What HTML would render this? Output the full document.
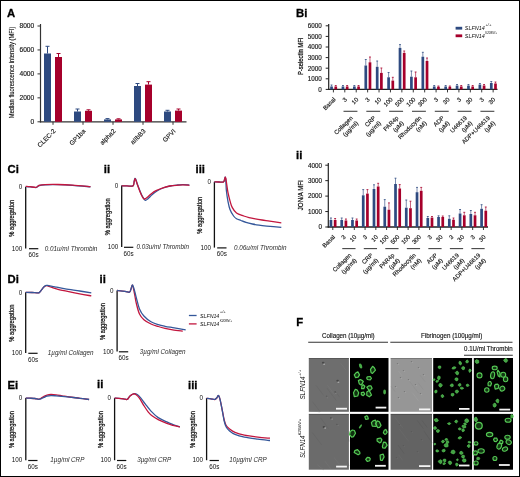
<!DOCTYPE html>
<html><head><meta charset="utf-8"><style>
html,body{margin:0;padding:0;background:#fff;}
svg{display:block;will-change:transform;filter:blur(0.3px);font-family:"Liberation Sans", sans-serif;}
.yl{stroke:#111;stroke-width:0.25px;}
text{stroke:#222;stroke-width:0.15px;}
text[font-style=italic],.ns{stroke:none;}
.pl{stroke:#000;stroke-width:0.3px;}
</style></head><body>
<div style="position:relative;width:520px;height:477px;overflow:hidden;">
<svg width="520" height="477" viewBox="0 0 520 477">
<defs><filter id="bl" x="-50%" y="-50%" width="200%" height="200%"><feGaussianBlur stdDeviation="0.35"/></filter></defs>
<rect width="520" height="477" fill="#fff"/>
<text x="7" y="16.8" font-size="11.3" text-anchor="start" fill="#000" font-weight="bold" class="pl">A</text>
<line x1="40.5" y1="24" x2="40.5" y2="122.39999999999999" stroke="#333" stroke-width="1.2" />
<line x1="37.5" y1="121.8" x2="40.5" y2="121.8" stroke="#333" stroke-width="1" />
<text x="34.2" y="124.1" font-size="6.6" text-anchor="end" fill="#111" >0</text>
<line x1="37.5" y1="97.85" x2="40.5" y2="97.85" stroke="#333" stroke-width="1" />
<text x="34.2" y="100.14999999999999" font-size="6.6" text-anchor="end" fill="#111" >2000</text>
<line x1="37.5" y1="73.9" x2="40.5" y2="73.9" stroke="#333" stroke-width="1" />
<text x="34.2" y="76.2" font-size="6.6" text-anchor="end" fill="#111" >4000</text>
<line x1="37.5" y1="49.95" x2="40.5" y2="49.95" stroke="#333" stroke-width="1" />
<text x="34.2" y="52.25" font-size="6.6" text-anchor="end" fill="#111" >6000</text>
<line x1="37.5" y1="26.0" x2="40.5" y2="26.0" stroke="#333" stroke-width="1" />
<text x="34.2" y="28.3" font-size="6.6" text-anchor="end" fill="#111" >8000</text>
<line x1="39.9" y1="121.8" x2="186.5" y2="121.8" stroke="#333" stroke-width="1.3" />
<line x1="53" y1="121.8" x2="53" y2="124.8" stroke="#333" stroke-width="1" />
<line x1="47.5" y1="53.5" x2="47.5" y2="46.3" stroke="#2e4a80" stroke-width="1" />
<line x1="45.5" y1="46.3" x2="49.5" y2="46.3" stroke="#2e4a80" stroke-width="1" />
<line x1="58.5" y1="57" x2="58.5" y2="53.5" stroke="#a6002b" stroke-width="1" />
<line x1="56.5" y1="53.5" x2="60.5" y2="53.5" stroke="#a6002b" stroke-width="1" />
<rect x="44" y="53.5" width="7" height="68.3" fill="#2e4a80" />
<rect x="55" y="57" width="7" height="64.8" fill="#a6002b" />
<text transform="translate(56,131.6) rotate(-45)" font-size="6.4" text-anchor="end" fill="#111" >CLEC-2</text>
<line x1="83" y1="121.8" x2="83" y2="124.8" stroke="#333" stroke-width="1" />
<line x1="77.5" y1="111.5" x2="77.5" y2="109" stroke="#2e4a80" stroke-width="1" />
<line x1="75.5" y1="109" x2="79.5" y2="109" stroke="#2e4a80" stroke-width="1" />
<line x1="88.5" y1="110.8" x2="88.5" y2="109.8" stroke="#a6002b" stroke-width="1" />
<line x1="86.5" y1="109.8" x2="90.5" y2="109.8" stroke="#a6002b" stroke-width="1" />
<rect x="74" y="111.5" width="7" height="10.299999999999997" fill="#2e4a80" />
<rect x="85" y="110.8" width="7" height="11.0" fill="#a6002b" />
<text transform="translate(86,131.6) rotate(-45)" font-size="6.4" text-anchor="end" fill="#111" >GP1ba</text>
<line x1="113" y1="121.8" x2="113" y2="124.8" stroke="#333" stroke-width="1" />
<line x1="107.5" y1="119.4" x2="107.5" y2="118.6" stroke="#2e4a80" stroke-width="1" />
<line x1="105.5" y1="118.6" x2="109.5" y2="118.6" stroke="#2e4a80" stroke-width="1" />
<line x1="118.5" y1="119.4" x2="118.5" y2="118.8" stroke="#a6002b" stroke-width="1" />
<line x1="116.5" y1="118.8" x2="120.5" y2="118.8" stroke="#a6002b" stroke-width="1" />
<rect x="104" y="119.4" width="7" height="2.3999999999999915" fill="#2e4a80" />
<rect x="115" y="119.4" width="7" height="2.3999999999999915" fill="#a6002b" />
<text transform="translate(116,131.6) rotate(-45)" font-size="6.4" text-anchor="end" fill="#111" >alpha2</text>
<line x1="143" y1="121.8" x2="143" y2="124.8" stroke="#333" stroke-width="1" />
<line x1="137.5" y1="86" x2="137.5" y2="83.5" stroke="#2e4a80" stroke-width="1" />
<line x1="135.5" y1="83.5" x2="139.5" y2="83.5" stroke="#2e4a80" stroke-width="1" />
<line x1="148.5" y1="84.6" x2="148.5" y2="81.7" stroke="#a6002b" stroke-width="1" />
<line x1="146.5" y1="81.7" x2="150.5" y2="81.7" stroke="#a6002b" stroke-width="1" />
<rect x="134" y="86" width="7" height="35.8" fill="#2e4a80" />
<rect x="145" y="84.6" width="7" height="37.2" fill="#a6002b" />
<text transform="translate(146,131.6) rotate(-45)" font-size="6.4" text-anchor="end" fill="#111" >aIIbB3</text>
<line x1="173" y1="121.8" x2="173" y2="124.8" stroke="#333" stroke-width="1" />
<line x1="167.5" y1="111.5" x2="167.5" y2="110.3" stroke="#2e4a80" stroke-width="1" />
<line x1="165.5" y1="110.3" x2="169.5" y2="110.3" stroke="#2e4a80" stroke-width="1" />
<line x1="178.5" y1="110.6" x2="178.5" y2="109" stroke="#a6002b" stroke-width="1" />
<line x1="176.5" y1="109" x2="180.5" y2="109" stroke="#a6002b" stroke-width="1" />
<rect x="164" y="111.5" width="7" height="10.299999999999997" fill="#2e4a80" />
<rect x="175" y="110.6" width="7" height="11.200000000000003" fill="#a6002b" />
<text transform="translate(176,131.6) rotate(-45)" font-size="6.4" text-anchor="end" fill="#111" >GPVI</text>
<text transform="translate(13.9,72.4) rotate(-90)" font-size="7.4" text-anchor="middle" fill="#111" textLength="91.5" lengthAdjust="spacingAndGlyphs" >Median fluorescence intensity (MFI)</text>
<text x="296" y="16.5" font-size="11.3" text-anchor="start" fill="#000" font-weight="bold" class="pl">Bi</text>
<line x1="328.7" y1="24" x2="328.7" y2="90.0" stroke="#222" stroke-width="1.2" />
<line x1="325.7" y1="89.4" x2="328.7" y2="89.4" stroke="#222" stroke-width="1" />
<text x="321.7" y="91.7" font-size="6.3" text-anchor="end" fill="#111" >0</text>
<line x1="325.7" y1="78.80000000000001" x2="328.7" y2="78.80000000000001" stroke="#222" stroke-width="1" />
<text x="321.7" y="81.10000000000001" font-size="6.3" text-anchor="end" fill="#111" >1000</text>
<line x1="325.7" y1="68.2" x2="328.7" y2="68.2" stroke="#222" stroke-width="1" />
<text x="321.7" y="70.5" font-size="6.3" text-anchor="end" fill="#111" >2000</text>
<line x1="325.7" y1="57.60000000000001" x2="328.7" y2="57.60000000000001" stroke="#222" stroke-width="1" />
<text x="321.7" y="59.900000000000006" font-size="6.3" text-anchor="end" fill="#111" >3000</text>
<line x1="325.7" y1="47.00000000000001" x2="328.7" y2="47.00000000000001" stroke="#222" stroke-width="1" />
<text x="321.7" y="49.300000000000004" font-size="6.3" text-anchor="end" fill="#111" >4000</text>
<line x1="325.7" y1="36.400000000000006" x2="328.7" y2="36.400000000000006" stroke="#222" stroke-width="1" />
<text x="321.7" y="38.7" font-size="6.3" text-anchor="end" fill="#111" >5000</text>
<line x1="325.7" y1="25.800000000000004" x2="328.7" y2="25.800000000000004" stroke="#222" stroke-width="1" />
<text x="321.7" y="28.100000000000005" font-size="6.3" text-anchor="end" fill="#111" >6000</text>
<line x1="328.09999999999997" y1="89.4" x2="497.5" y2="89.4" stroke="#222" stroke-width="1.3" />
<line x1="333.4" y1="89.4" x2="333.4" y2="92.4" stroke="#222" stroke-width="0.9" />
<line x1="331.54999999999995" y1="86.5" x2="331.54999999999995" y2="85" stroke="#2e4a80" stroke-width="0.7" stroke-opacity="0.9"/>
<line x1="330.59999999999997" y1="85" x2="332.5" y2="85" stroke="#2e4a80" stroke-width="0.9" stroke-opacity="0.9"/>
<line x1="335.75" y1="86.5" x2="335.75" y2="85.5" stroke="#a6002b" stroke-width="0.7" stroke-opacity="0.9"/>
<line x1="334.79999999999995" y1="85.5" x2="336.7" y2="85.5" stroke="#a6002b" stroke-width="0.9" stroke-opacity="0.9"/>
<rect x="330.2" y="86.5" width="2.7" height="2.9000000000000057" fill="#2e4a80" />
<rect x="334.4" y="86.5" width="2.7" height="2.9000000000000057" fill="#a6002b" />
<text transform="translate(336.0,99.9) rotate(-45)" font-size="6.0" text-anchor="end" fill="#111" >Basal</text>
<line x1="344.81" y1="89.4" x2="344.81" y2="92.4" stroke="#222" stroke-width="0.9" />
<line x1="342.96" y1="86.5" x2="342.96" y2="85.5" stroke="#2e4a80" stroke-width="0.7" stroke-opacity="0.9"/>
<line x1="342.01" y1="85.5" x2="343.91" y2="85.5" stroke="#2e4a80" stroke-width="0.9" stroke-opacity="0.9"/>
<line x1="347.16" y1="86.5" x2="347.16" y2="85.5" stroke="#a6002b" stroke-width="0.7" stroke-opacity="0.9"/>
<line x1="346.21" y1="85.5" x2="348.11" y2="85.5" stroke="#a6002b" stroke-width="0.9" stroke-opacity="0.9"/>
<rect x="341.61" y="86.5" width="2.7" height="2.9000000000000057" fill="#2e4a80" />
<rect x="345.81" y="86.5" width="2.7" height="2.9000000000000057" fill="#a6002b" />
<text transform="translate(347.41,99.9) rotate(-45)" font-size="6.0" text-anchor="end" fill="#111" >3</text>
<line x1="356.21999999999997" y1="89.4" x2="356.21999999999997" y2="92.4" stroke="#222" stroke-width="0.9" />
<line x1="354.36999999999995" y1="86.5" x2="354.36999999999995" y2="85.5" stroke="#2e4a80" stroke-width="0.7" stroke-opacity="0.9"/>
<line x1="353.41999999999996" y1="85.5" x2="355.32" y2="85.5" stroke="#2e4a80" stroke-width="0.9" stroke-opacity="0.9"/>
<line x1="358.57" y1="86.5" x2="358.57" y2="85.5" stroke="#a6002b" stroke-width="0.7" stroke-opacity="0.9"/>
<line x1="357.61999999999995" y1="85.5" x2="359.52" y2="85.5" stroke="#a6002b" stroke-width="0.9" stroke-opacity="0.9"/>
<rect x="353.02" y="86.5" width="2.7" height="2.9000000000000057" fill="#2e4a80" />
<rect x="357.21999999999997" y="86.5" width="2.7" height="2.9000000000000057" fill="#a6002b" />
<text transform="translate(358.82,99.9) rotate(-45)" font-size="6.0" text-anchor="end" fill="#111" >10</text>
<line x1="367.63" y1="89.4" x2="367.63" y2="92.4" stroke="#222" stroke-width="0.9" />
<line x1="365.78" y1="65.5" x2="365.78" y2="59.5" stroke="#2e4a80" stroke-width="0.7" stroke-opacity="0.9"/>
<line x1="364.83" y1="59.5" x2="366.73" y2="59.5" stroke="#2e4a80" stroke-width="0.9" stroke-opacity="0.9"/>
<line x1="369.98" y1="62.3" x2="369.98" y2="57" stroke="#a6002b" stroke-width="0.7" stroke-opacity="0.9"/>
<line x1="369.03" y1="57" x2="370.93" y2="57" stroke="#a6002b" stroke-width="0.9" stroke-opacity="0.9"/>
<rect x="364.43" y="65.5" width="2.7" height="23.900000000000006" fill="#2e4a80" />
<rect x="368.63" y="62.3" width="2.7" height="27.10000000000001" fill="#a6002b" />
<text transform="translate(370.23,99.9) rotate(-45)" font-size="6.0" text-anchor="end" fill="#111" >3</text>
<line x1="379.03999999999996" y1="89.4" x2="379.03999999999996" y2="92.4" stroke="#222" stroke-width="0.9" />
<line x1="377.18999999999994" y1="66.8" x2="377.18999999999994" y2="61" stroke="#2e4a80" stroke-width="0.7" stroke-opacity="0.9"/>
<line x1="376.23999999999995" y1="61" x2="378.14" y2="61" stroke="#2e4a80" stroke-width="0.9" stroke-opacity="0.9"/>
<line x1="381.39" y1="72.9" x2="381.39" y2="68" stroke="#a6002b" stroke-width="0.7" stroke-opacity="0.9"/>
<line x1="380.43999999999994" y1="68" x2="382.34" y2="68" stroke="#a6002b" stroke-width="0.9" stroke-opacity="0.9"/>
<rect x="375.84" y="66.8" width="2.7" height="22.60000000000001" fill="#2e4a80" />
<rect x="380.03999999999996" y="72.9" width="2.7" height="16.5" fill="#a6002b" />
<text transform="translate(381.64,99.9) rotate(-45)" font-size="6.0" text-anchor="end" fill="#111" >10</text>
<line x1="390.45" y1="89.4" x2="390.45" y2="92.4" stroke="#222" stroke-width="0.9" />
<line x1="388.59999999999997" y1="77.3" x2="388.59999999999997" y2="72.5" stroke="#2e4a80" stroke-width="0.7" stroke-opacity="0.9"/>
<line x1="387.65" y1="72.5" x2="389.55" y2="72.5" stroke="#2e4a80" stroke-width="0.9" stroke-opacity="0.9"/>
<line x1="392.8" y1="80.6" x2="392.8" y2="77.3" stroke="#a6002b" stroke-width="0.7" stroke-opacity="0.9"/>
<line x1="391.84999999999997" y1="77.3" x2="393.75" y2="77.3" stroke="#a6002b" stroke-width="0.9" stroke-opacity="0.9"/>
<rect x="387.25" y="77.3" width="2.7" height="12.100000000000009" fill="#2e4a80" />
<rect x="391.45" y="80.6" width="2.7" height="8.800000000000011" fill="#a6002b" />
<text transform="translate(393.05,99.9) rotate(-45)" font-size="6.0" text-anchor="end" fill="#111" >100</text>
<line x1="401.86" y1="89.4" x2="401.86" y2="92.4" stroke="#222" stroke-width="0.9" />
<line x1="400.01" y1="47.9" x2="400.01" y2="44.6" stroke="#2e4a80" stroke-width="0.7" stroke-opacity="0.9"/>
<line x1="399.06" y1="44.6" x2="400.96000000000004" y2="44.6" stroke="#2e4a80" stroke-width="0.9" stroke-opacity="0.9"/>
<line x1="404.21000000000004" y1="52.9" x2="404.21000000000004" y2="51" stroke="#a6002b" stroke-width="0.7" stroke-opacity="0.9"/>
<line x1="403.26" y1="51" x2="405.16" y2="51" stroke="#a6002b" stroke-width="0.9" stroke-opacity="0.9"/>
<rect x="398.66" y="47.9" width="2.7" height="41.50000000000001" fill="#2e4a80" />
<rect x="402.86" y="52.9" width="2.7" height="36.50000000000001" fill="#a6002b" />
<text transform="translate(404.46000000000004,99.9) rotate(-45)" font-size="6.0" text-anchor="end" fill="#111" >500</text>
<line x1="413.27" y1="89.4" x2="413.27" y2="92.4" stroke="#222" stroke-width="0.9" />
<line x1="411.41999999999996" y1="76.7" x2="411.41999999999996" y2="71" stroke="#2e4a80" stroke-width="0.7" stroke-opacity="0.9"/>
<line x1="410.46999999999997" y1="71" x2="412.37" y2="71" stroke="#2e4a80" stroke-width="0.9" stroke-opacity="0.9"/>
<line x1="415.62" y1="77.3" x2="415.62" y2="72" stroke="#a6002b" stroke-width="0.7" stroke-opacity="0.9"/>
<line x1="414.66999999999996" y1="72" x2="416.57" y2="72" stroke="#a6002b" stroke-width="0.9" stroke-opacity="0.9"/>
<rect x="410.07" y="76.7" width="2.7" height="12.700000000000003" fill="#2e4a80" />
<rect x="414.27" y="77.3" width="2.7" height="12.100000000000009" fill="#a6002b" />
<text transform="translate(415.87,99.9) rotate(-45)" font-size="6.0" text-anchor="end" fill="#111" >100</text>
<line x1="424.67999999999995" y1="89.4" x2="424.67999999999995" y2="92.4" stroke="#222" stroke-width="0.9" />
<line x1="422.8299999999999" y1="56.7" x2="422.8299999999999" y2="52.3" stroke="#2e4a80" stroke-width="0.7" stroke-opacity="0.9"/>
<line x1="421.87999999999994" y1="52.3" x2="423.78" y2="52.3" stroke="#2e4a80" stroke-width="0.9" stroke-opacity="0.9"/>
<line x1="427.03" y1="61" x2="427.03" y2="58" stroke="#a6002b" stroke-width="0.7" stroke-opacity="0.9"/>
<line x1="426.0799999999999" y1="58" x2="427.97999999999996" y2="58" stroke="#a6002b" stroke-width="0.9" stroke-opacity="0.9"/>
<rect x="421.47999999999996" y="56.7" width="2.7" height="32.7" fill="#2e4a80" />
<rect x="425.67999999999995" y="61" width="2.7" height="28.400000000000006" fill="#a6002b" />
<text transform="translate(427.28,99.9) rotate(-45)" font-size="6.0" text-anchor="end" fill="#111" >300</text>
<line x1="436.09" y1="89.4" x2="436.09" y2="92.4" stroke="#222" stroke-width="0.9" />
<line x1="434.23999999999995" y1="86.5" x2="434.23999999999995" y2="85.5" stroke="#2e4a80" stroke-width="0.7" stroke-opacity="0.9"/>
<line x1="433.28999999999996" y1="85.5" x2="435.19" y2="85.5" stroke="#2e4a80" stroke-width="0.9" stroke-opacity="0.9"/>
<line x1="438.44" y1="86.7" x2="438.44" y2="86" stroke="#a6002b" stroke-width="0.7" stroke-opacity="0.9"/>
<line x1="437.48999999999995" y1="86" x2="439.39" y2="86" stroke="#a6002b" stroke-width="0.9" stroke-opacity="0.9"/>
<rect x="432.89" y="86.5" width="2.7" height="2.9000000000000057" fill="#2e4a80" />
<rect x="437.09" y="86.7" width="2.7" height="2.700000000000003" fill="#a6002b" />
<text transform="translate(438.69,99.9) rotate(-45)" font-size="6.0" text-anchor="end" fill="#111" >3</text>
<line x1="447.5" y1="89.4" x2="447.5" y2="92.4" stroke="#222" stroke-width="0.9" />
<line x1="445.65" y1="86.5" x2="445.65" y2="85.5" stroke="#2e4a80" stroke-width="0.7" stroke-opacity="0.9"/>
<line x1="444.7" y1="85.5" x2="446.6" y2="85.5" stroke="#2e4a80" stroke-width="0.9" stroke-opacity="0.9"/>
<line x1="449.85" y1="86.7" x2="449.85" y2="86" stroke="#a6002b" stroke-width="0.7" stroke-opacity="0.9"/>
<line x1="448.9" y1="86" x2="450.8" y2="86" stroke="#a6002b" stroke-width="0.9" stroke-opacity="0.9"/>
<rect x="444.3" y="86.5" width="2.7" height="2.9000000000000057" fill="#2e4a80" />
<rect x="448.5" y="86.7" width="2.7" height="2.700000000000003" fill="#a6002b" />
<text transform="translate(450.1,99.9) rotate(-45)" font-size="6.0" text-anchor="end" fill="#111" >30</text>
<line x1="458.90999999999997" y1="89.4" x2="458.90999999999997" y2="92.4" stroke="#222" stroke-width="0.9" />
<line x1="457.05999999999995" y1="85.6" x2="457.05999999999995" y2="84.5" stroke="#2e4a80" stroke-width="0.7" stroke-opacity="0.9"/>
<line x1="456.10999999999996" y1="84.5" x2="458.01" y2="84.5" stroke="#2e4a80" stroke-width="0.9" stroke-opacity="0.9"/>
<line x1="461.26" y1="86.5" x2="461.26" y2="85.5" stroke="#a6002b" stroke-width="0.7" stroke-opacity="0.9"/>
<line x1="460.30999999999995" y1="85.5" x2="462.21" y2="85.5" stroke="#a6002b" stroke-width="0.9" stroke-opacity="0.9"/>
<rect x="455.71" y="85.6" width="2.7" height="3.8000000000000114" fill="#2e4a80" />
<rect x="459.90999999999997" y="86.5" width="2.7" height="2.9000000000000057" fill="#a6002b" />
<text transform="translate(461.51,99.9) rotate(-45)" font-size="6.0" text-anchor="end" fill="#111" >3</text>
<line x1="470.32" y1="89.4" x2="470.32" y2="92.4" stroke="#222" stroke-width="0.9" />
<line x1="468.46999999999997" y1="85.6" x2="468.46999999999997" y2="84.5" stroke="#2e4a80" stroke-width="0.7" stroke-opacity="0.9"/>
<line x1="467.52" y1="84.5" x2="469.42" y2="84.5" stroke="#2e4a80" stroke-width="0.9" stroke-opacity="0.9"/>
<line x1="472.67" y1="86.5" x2="472.67" y2="85.5" stroke="#a6002b" stroke-width="0.7" stroke-opacity="0.9"/>
<line x1="471.71999999999997" y1="85.5" x2="473.62" y2="85.5" stroke="#a6002b" stroke-width="0.9" stroke-opacity="0.9"/>
<rect x="467.12" y="85.6" width="2.7" height="3.8000000000000114" fill="#2e4a80" />
<rect x="471.32" y="86.5" width="2.7" height="2.9000000000000057" fill="#a6002b" />
<text transform="translate(472.92,99.9) rotate(-45)" font-size="6.0" text-anchor="end" fill="#111" >30</text>
<line x1="481.73" y1="89.4" x2="481.73" y2="92.4" stroke="#222" stroke-width="0.9" />
<line x1="479.88" y1="84.6" x2="479.88" y2="83.5" stroke="#2e4a80" stroke-width="0.7" stroke-opacity="0.9"/>
<line x1="478.93" y1="83.5" x2="480.83000000000004" y2="83.5" stroke="#2e4a80" stroke-width="0.9" stroke-opacity="0.9"/>
<line x1="484.08000000000004" y1="85.5" x2="484.08000000000004" y2="84.5" stroke="#a6002b" stroke-width="0.7" stroke-opacity="0.9"/>
<line x1="483.13" y1="84.5" x2="485.03000000000003" y2="84.5" stroke="#a6002b" stroke-width="0.9" stroke-opacity="0.9"/>
<rect x="478.53000000000003" y="84.6" width="2.7" height="4.800000000000011" fill="#2e4a80" />
<rect x="482.73" y="85.5" width="2.7" height="3.9000000000000057" fill="#a6002b" />
<text transform="translate(484.33000000000004,99.9) rotate(-45)" font-size="6.0" text-anchor="end" fill="#111" >3</text>
<line x1="493.14" y1="89.4" x2="493.14" y2="92.4" stroke="#222" stroke-width="0.9" />
<line x1="491.28999999999996" y1="83" x2="491.28999999999996" y2="81.5" stroke="#2e4a80" stroke-width="0.7" stroke-opacity="0.9"/>
<line x1="490.34" y1="81.5" x2="492.24" y2="81.5" stroke="#2e4a80" stroke-width="0.9" stroke-opacity="0.9"/>
<line x1="495.49" y1="83.5" x2="495.49" y2="82" stroke="#a6002b" stroke-width="0.7" stroke-opacity="0.9"/>
<line x1="494.53999999999996" y1="82" x2="496.44" y2="82" stroke="#a6002b" stroke-width="0.9" stroke-opacity="0.9"/>
<rect x="489.94" y="83" width="2.7" height="6.400000000000006" fill="#2e4a80" />
<rect x="494.14" y="83.5" width="2.7" height="5.900000000000006" fill="#a6002b" />
<text transform="translate(495.74,99.9) rotate(-45)" font-size="6.0" text-anchor="end" fill="#111" >30</text>
<line x1="343.51" y1="111.3" x2="357.41999999999996" y2="111.3" stroke="#444" stroke-width="1.1" />
<g transform="translate(353.31,118.30) rotate(-45)" font-size="6.0" text-anchor="end" fill="#111"><text x="0" y="0">Collagen</text><text x="0" y="7.5">(µg/ml)</text></g>
<line x1="366.33" y1="111.3" x2="380.23999999999995" y2="111.3" stroke="#444" stroke-width="1.1" />
<g transform="translate(376.13,118.30) rotate(-45)" font-size="6.0" text-anchor="end" fill="#111"><text x="0" y="0">CRP</text><text x="0" y="7.5">(µg/ml)</text></g>
<line x1="389.15" y1="111.3" x2="403.06" y2="111.3" stroke="#444" stroke-width="1.1" />
<g transform="translate(398.95,118.30) rotate(-45)" font-size="6.0" text-anchor="end" fill="#111"><text x="0" y="0">PAR4p</text><text x="0" y="7.5">(µM)</text></g>
<line x1="411.96999999999997" y1="111.3" x2="425.87999999999994" y2="111.3" stroke="#444" stroke-width="1.1" />
<g transform="translate(421.77,118.30) rotate(-45)" font-size="6.0" text-anchor="end" fill="#111"><text x="0" y="0">Rhodocytin</text><text x="0" y="7.5">(nM)</text></g>
<line x1="434.78999999999996" y1="111.3" x2="448.7" y2="111.3" stroke="#444" stroke-width="1.1" />
<g transform="translate(444.59,118.30) rotate(-45)" font-size="6.0" text-anchor="end" fill="#111"><text x="0" y="0">ADP</text><text x="0" y="7.5">(µM)</text></g>
<line x1="457.60999999999996" y1="111.3" x2="471.52" y2="111.3" stroke="#444" stroke-width="1.1" />
<g transform="translate(467.42,118.30) rotate(-45)" font-size="6.0" text-anchor="end" fill="#111"><text x="0" y="0">U46619</text><text x="0" y="7.5">(µM)</text></g>
<line x1="480.43" y1="111.3" x2="494.34" y2="111.3" stroke="#444" stroke-width="1.1" />
<g transform="translate(490.24,118.30) rotate(-45)" font-size="6.0" text-anchor="end" fill="#111"><text x="0" y="0">ADP+U46619</text><text x="0" y="7.5">(µM)</text></g>
<text transform="translate(302.7,56.3) rotate(-90)" font-size="7.2" text-anchor="middle" fill="#111" textLength="37.5" lengthAdjust="spacingAndGlyphs" class="yl">P-selectin MFI</text>
<text x="296" y="159" font-size="11.3" text-anchor="start" fill="#000" font-weight="bold" class="pl">ii</text>
<line x1="328.3" y1="163" x2="328.3" y2="227.6" stroke="#222" stroke-width="1.2" />
<line x1="325.3" y1="227.0" x2="328.3" y2="227.0" stroke="#222" stroke-width="1" />
<text x="322.0" y="229.3" font-size="6.3" text-anchor="end" fill="#111" >0</text>
<line x1="325.3" y1="211.55" x2="328.3" y2="211.55" stroke="#222" stroke-width="1" />
<text x="322.0" y="213.85000000000002" font-size="6.3" text-anchor="end" fill="#111" >1000</text>
<line x1="325.3" y1="196.1" x2="328.3" y2="196.1" stroke="#222" stroke-width="1" />
<text x="322.0" y="198.4" font-size="6.3" text-anchor="end" fill="#111" >2000</text>
<line x1="325.3" y1="180.65" x2="328.3" y2="180.65" stroke="#222" stroke-width="1" />
<text x="322.0" y="182.95000000000002" font-size="6.3" text-anchor="end" fill="#111" >3000</text>
<line x1="325.3" y1="165.2" x2="328.3" y2="165.2" stroke="#222" stroke-width="1" />
<text x="322.0" y="167.5" font-size="6.3" text-anchor="end" fill="#111" >4000</text>
<line x1="327.7" y1="227.0" x2="488" y2="227.0" stroke="#222" stroke-width="1.3" />
<line x1="332.8" y1="227.0" x2="332.8" y2="230.0" stroke="#222" stroke-width="0.9" />
<line x1="330.95" y1="220" x2="330.95" y2="218" stroke="#2e4a80" stroke-width="0.7" stroke-opacity="0.9"/>
<line x1="330.0" y1="218" x2="331.90000000000003" y2="218" stroke="#2e4a80" stroke-width="0.9" stroke-opacity="0.9"/>
<line x1="335.15000000000003" y1="220" x2="335.15000000000003" y2="218.5" stroke="#a6002b" stroke-width="0.7" stroke-opacity="0.9"/>
<line x1="334.2" y1="218.5" x2="336.1" y2="218.5" stroke="#a6002b" stroke-width="0.9" stroke-opacity="0.9"/>
<rect x="329.6" y="220" width="2.7" height="7.0" fill="#2e4a80" />
<rect x="333.8" y="220" width="2.7" height="7.0" fill="#a6002b" />
<text transform="translate(335.40000000000003,237.5) rotate(-45)" font-size="6.0" text-anchor="end" fill="#111" >Basal</text>
<line x1="343.56" y1="227.0" x2="343.56" y2="230.0" stroke="#222" stroke-width="0.9" />
<line x1="341.71" y1="220" x2="341.71" y2="218" stroke="#2e4a80" stroke-width="0.7" stroke-opacity="0.9"/>
<line x1="340.76" y1="218" x2="342.66" y2="218" stroke="#2e4a80" stroke-width="0.9" stroke-opacity="0.9"/>
<line x1="345.91" y1="220.5" x2="345.91" y2="219" stroke="#a6002b" stroke-width="0.7" stroke-opacity="0.9"/>
<line x1="344.96" y1="219" x2="346.86" y2="219" stroke="#a6002b" stroke-width="0.9" stroke-opacity="0.9"/>
<rect x="340.36" y="220" width="2.7" height="7.0" fill="#2e4a80" />
<rect x="344.56" y="220.5" width="2.7" height="6.5" fill="#a6002b" />
<text transform="translate(346.16,237.5) rotate(-45)" font-size="6.0" text-anchor="end" fill="#111" >3</text>
<line x1="354.32" y1="227.0" x2="354.32" y2="230.0" stroke="#222" stroke-width="0.9" />
<line x1="352.46999999999997" y1="220" x2="352.46999999999997" y2="218" stroke="#2e4a80" stroke-width="0.7" stroke-opacity="0.9"/>
<line x1="351.52" y1="218" x2="353.42" y2="218" stroke="#2e4a80" stroke-width="0.9" stroke-opacity="0.9"/>
<line x1="356.67" y1="220.5" x2="356.67" y2="219" stroke="#a6002b" stroke-width="0.7" stroke-opacity="0.9"/>
<line x1="355.71999999999997" y1="219" x2="357.62" y2="219" stroke="#a6002b" stroke-width="0.9" stroke-opacity="0.9"/>
<rect x="351.12" y="220" width="2.7" height="7.0" fill="#2e4a80" />
<rect x="355.32" y="220.5" width="2.7" height="6.5" fill="#a6002b" />
<text transform="translate(356.92,237.5) rotate(-45)" font-size="6.0" text-anchor="end" fill="#111" >10</text>
<line x1="365.08000000000004" y1="227.0" x2="365.08000000000004" y2="230.0" stroke="#222" stroke-width="0.9" />
<line x1="363.23" y1="195.3" x2="363.23" y2="189.6" stroke="#2e4a80" stroke-width="0.7" stroke-opacity="0.9"/>
<line x1="362.28000000000003" y1="189.6" x2="364.18000000000006" y2="189.6" stroke="#2e4a80" stroke-width="0.9" stroke-opacity="0.9"/>
<line x1="367.43000000000006" y1="193.6" x2="367.43000000000006" y2="189.6" stroke="#a6002b" stroke-width="0.7" stroke-opacity="0.9"/>
<line x1="366.48" y1="189.6" x2="368.38000000000005" y2="189.6" stroke="#a6002b" stroke-width="0.9" stroke-opacity="0.9"/>
<rect x="361.88000000000005" y="195.3" width="2.7" height="31.69999999999999" fill="#2e4a80" />
<rect x="366.08000000000004" y="193.6" width="2.7" height="33.400000000000006" fill="#a6002b" />
<text transform="translate(367.68000000000006,237.5) rotate(-45)" font-size="6.0" text-anchor="end" fill="#111" >3</text>
<line x1="375.84000000000003" y1="227.0" x2="375.84000000000003" y2="230.0" stroke="#222" stroke-width="0.9" />
<line x1="373.99" y1="189" x2="373.99" y2="184.8" stroke="#2e4a80" stroke-width="0.7" stroke-opacity="0.9"/>
<line x1="373.04" y1="184.8" x2="374.94000000000005" y2="184.8" stroke="#2e4a80" stroke-width="0.9" stroke-opacity="0.9"/>
<line x1="378.19000000000005" y1="186.5" x2="378.19000000000005" y2="183.3" stroke="#a6002b" stroke-width="0.7" stroke-opacity="0.9"/>
<line x1="377.24" y1="183.3" x2="379.14000000000004" y2="183.3" stroke="#a6002b" stroke-width="0.9" stroke-opacity="0.9"/>
<rect x="372.64000000000004" y="189" width="2.7" height="38.0" fill="#2e4a80" />
<rect x="376.84000000000003" y="186.5" width="2.7" height="40.5" fill="#a6002b" />
<text transform="translate(378.44000000000005,237.5) rotate(-45)" font-size="6.0" text-anchor="end" fill="#111" >10</text>
<line x1="386.6" y1="227.0" x2="386.6" y2="230.0" stroke="#222" stroke-width="0.9" />
<line x1="384.75" y1="206.7" x2="384.75" y2="199.6" stroke="#2e4a80" stroke-width="0.7" stroke-opacity="0.9"/>
<line x1="383.8" y1="199.6" x2="385.70000000000005" y2="199.6" stroke="#2e4a80" stroke-width="0.9" stroke-opacity="0.9"/>
<line x1="388.95000000000005" y1="209.7" x2="388.95000000000005" y2="202.9" stroke="#a6002b" stroke-width="0.7" stroke-opacity="0.9"/>
<line x1="388.0" y1="202.9" x2="389.90000000000003" y2="202.9" stroke="#a6002b" stroke-width="0.9" stroke-opacity="0.9"/>
<rect x="383.40000000000003" y="206.7" width="2.7" height="20.30000000000001" fill="#2e4a80" />
<rect x="387.6" y="209.7" width="2.7" height="17.30000000000001" fill="#a6002b" />
<text transform="translate(389.20000000000005,237.5) rotate(-45)" font-size="6.0" text-anchor="end" fill="#111" >100</text>
<line x1="397.36" y1="227.0" x2="397.36" y2="230.0" stroke="#222" stroke-width="0.9" />
<line x1="395.51" y1="184" x2="395.51" y2="178.2" stroke="#2e4a80" stroke-width="0.7" stroke-opacity="0.9"/>
<line x1="394.56" y1="178.2" x2="396.46000000000004" y2="178.2" stroke="#2e4a80" stroke-width="0.9" stroke-opacity="0.9"/>
<line x1="399.71000000000004" y1="188.5" x2="399.71000000000004" y2="184.6" stroke="#a6002b" stroke-width="0.7" stroke-opacity="0.9"/>
<line x1="398.76" y1="184.6" x2="400.66" y2="184.6" stroke="#a6002b" stroke-width="0.9" stroke-opacity="0.9"/>
<rect x="394.16" y="184" width="2.7" height="43.0" fill="#2e4a80" />
<rect x="398.36" y="188.5" width="2.7" height="38.5" fill="#a6002b" />
<text transform="translate(399.96000000000004,237.5) rotate(-45)" font-size="6.0" text-anchor="end" fill="#111" >500</text>
<line x1="408.12" y1="227.0" x2="408.12" y2="230.0" stroke="#222" stroke-width="0.9" />
<line x1="406.27" y1="207.7" x2="406.27" y2="200" stroke="#2e4a80" stroke-width="0.7" stroke-opacity="0.9"/>
<line x1="405.32" y1="200" x2="407.22" y2="200" stroke="#2e4a80" stroke-width="0.9" stroke-opacity="0.9"/>
<line x1="410.47" y1="208.2" x2="410.47" y2="201.2" stroke="#a6002b" stroke-width="0.7" stroke-opacity="0.9"/>
<line x1="409.52" y1="201.2" x2="411.42" y2="201.2" stroke="#a6002b" stroke-width="0.9" stroke-opacity="0.9"/>
<rect x="404.92" y="207.7" width="2.7" height="19.30000000000001" fill="#2e4a80" />
<rect x="409.12" y="208.2" width="2.7" height="18.80000000000001" fill="#a6002b" />
<text transform="translate(410.72,237.5) rotate(-45)" font-size="6.0" text-anchor="end" fill="#111" >100</text>
<line x1="418.88" y1="227.0" x2="418.88" y2="230.0" stroke="#222" stroke-width="0.9" />
<line x1="417.03" y1="192.2" x2="417.03" y2="187.4" stroke="#2e4a80" stroke-width="0.7" stroke-opacity="0.9"/>
<line x1="416.08" y1="187.4" x2="417.98" y2="187.4" stroke="#2e4a80" stroke-width="0.9" stroke-opacity="0.9"/>
<line x1="421.23" y1="190.8" x2="421.23" y2="187.4" stroke="#a6002b" stroke-width="0.7" stroke-opacity="0.9"/>
<line x1="420.28" y1="187.4" x2="422.18" y2="187.4" stroke="#a6002b" stroke-width="0.9" stroke-opacity="0.9"/>
<rect x="415.68" y="192.2" width="2.7" height="34.80000000000001" fill="#2e4a80" />
<rect x="419.88" y="190.8" width="2.7" height="36.19999999999999" fill="#a6002b" />
<text transform="translate(421.48,237.5) rotate(-45)" font-size="6.0" text-anchor="end" fill="#111" >300</text>
<line x1="429.64" y1="227.0" x2="429.64" y2="230.0" stroke="#222" stroke-width="0.9" />
<line x1="427.78999999999996" y1="218" x2="427.78999999999996" y2="216.5" stroke="#2e4a80" stroke-width="0.7" stroke-opacity="0.9"/>
<line x1="426.84" y1="216.5" x2="428.74" y2="216.5" stroke="#2e4a80" stroke-width="0.9" stroke-opacity="0.9"/>
<line x1="431.99" y1="217.6" x2="431.99" y2="216.5" stroke="#a6002b" stroke-width="0.7" stroke-opacity="0.9"/>
<line x1="431.03999999999996" y1="216.5" x2="432.94" y2="216.5" stroke="#a6002b" stroke-width="0.9" stroke-opacity="0.9"/>
<rect x="426.44" y="218" width="2.7" height="9.0" fill="#2e4a80" />
<rect x="430.64" y="217.6" width="2.7" height="9.400000000000006" fill="#a6002b" />
<text transform="translate(432.24,237.5) rotate(-45)" font-size="6.0" text-anchor="end" fill="#111" >3</text>
<line x1="440.4" y1="227.0" x2="440.4" y2="230.0" stroke="#222" stroke-width="0.9" />
<line x1="438.54999999999995" y1="217" x2="438.54999999999995" y2="215.8" stroke="#2e4a80" stroke-width="0.7" stroke-opacity="0.9"/>
<line x1="437.59999999999997" y1="215.8" x2="439.5" y2="215.8" stroke="#2e4a80" stroke-width="0.9" stroke-opacity="0.9"/>
<line x1="442.75" y1="217" x2="442.75" y2="216" stroke="#a6002b" stroke-width="0.7" stroke-opacity="0.9"/>
<line x1="441.79999999999995" y1="216" x2="443.7" y2="216" stroke="#a6002b" stroke-width="0.9" stroke-opacity="0.9"/>
<rect x="437.2" y="217" width="2.7" height="10.0" fill="#2e4a80" />
<rect x="441.4" y="217" width="2.7" height="10.0" fill="#a6002b" />
<text transform="translate(443.0,237.5) rotate(-45)" font-size="6.0" text-anchor="end" fill="#111" >30</text>
<line x1="451.16" y1="227.0" x2="451.16" y2="230.0" stroke="#222" stroke-width="0.9" />
<line x1="449.31" y1="218.8" x2="449.31" y2="215.8" stroke="#2e4a80" stroke-width="0.7" stroke-opacity="0.9"/>
<line x1="448.36" y1="215.8" x2="450.26000000000005" y2="215.8" stroke="#2e4a80" stroke-width="0.9" stroke-opacity="0.9"/>
<line x1="453.51000000000005" y1="219.7" x2="453.51000000000005" y2="218" stroke="#a6002b" stroke-width="0.7" stroke-opacity="0.9"/>
<line x1="452.56" y1="218" x2="454.46000000000004" y2="218" stroke="#a6002b" stroke-width="0.9" stroke-opacity="0.9"/>
<rect x="447.96000000000004" y="218.8" width="2.7" height="8.199999999999989" fill="#2e4a80" />
<rect x="452.16" y="219.7" width="2.7" height="7.300000000000011" fill="#a6002b" />
<text transform="translate(453.76000000000005,237.5) rotate(-45)" font-size="6.0" text-anchor="end" fill="#111" >3</text>
<line x1="461.92" y1="227.0" x2="461.92" y2="230.0" stroke="#222" stroke-width="0.9" />
<line x1="460.07" y1="213.5" x2="460.07" y2="209.5" stroke="#2e4a80" stroke-width="0.7" stroke-opacity="0.9"/>
<line x1="459.12" y1="209.5" x2="461.02000000000004" y2="209.5" stroke="#2e4a80" stroke-width="0.9" stroke-opacity="0.9"/>
<line x1="464.27000000000004" y1="215.3" x2="464.27000000000004" y2="212.3" stroke="#a6002b" stroke-width="0.7" stroke-opacity="0.9"/>
<line x1="463.32" y1="212.3" x2="465.22" y2="212.3" stroke="#a6002b" stroke-width="0.9" stroke-opacity="0.9"/>
<rect x="458.72" y="213.5" width="2.7" height="13.5" fill="#2e4a80" />
<rect x="462.92" y="215.3" width="2.7" height="11.699999999999989" fill="#a6002b" />
<text transform="translate(464.52000000000004,237.5) rotate(-45)" font-size="6.0" text-anchor="end" fill="#111" >30</text>
<line x1="472.68" y1="227.0" x2="472.68" y2="230.0" stroke="#222" stroke-width="0.9" />
<line x1="470.83" y1="214" x2="470.83" y2="210.5" stroke="#2e4a80" stroke-width="0.7" stroke-opacity="0.9"/>
<line x1="469.88" y1="210.5" x2="471.78000000000003" y2="210.5" stroke="#2e4a80" stroke-width="0.9" stroke-opacity="0.9"/>
<line x1="475.03000000000003" y1="215.3" x2="475.03000000000003" y2="212.3" stroke="#a6002b" stroke-width="0.7" stroke-opacity="0.9"/>
<line x1="474.08" y1="212.3" x2="475.98" y2="212.3" stroke="#a6002b" stroke-width="0.9" stroke-opacity="0.9"/>
<rect x="469.48" y="214" width="2.7" height="13.0" fill="#2e4a80" />
<rect x="473.68" y="215.3" width="2.7" height="11.699999999999989" fill="#a6002b" />
<text transform="translate(475.28000000000003,237.5) rotate(-45)" font-size="6.0" text-anchor="end" fill="#111" >3</text>
<line x1="483.44" y1="227.0" x2="483.44" y2="230.0" stroke="#222" stroke-width="0.9" />
<line x1="481.59" y1="208.8" x2="481.59" y2="204.7" stroke="#2e4a80" stroke-width="0.7" stroke-opacity="0.9"/>
<line x1="480.64" y1="204.7" x2="482.54" y2="204.7" stroke="#2e4a80" stroke-width="0.9" stroke-opacity="0.9"/>
<line x1="485.79" y1="210.7" x2="485.79" y2="207" stroke="#a6002b" stroke-width="0.7" stroke-opacity="0.9"/>
<line x1="484.84" y1="207" x2="486.74" y2="207" stroke="#a6002b" stroke-width="0.9" stroke-opacity="0.9"/>
<rect x="480.24" y="208.8" width="2.7" height="18.19999999999999" fill="#2e4a80" />
<rect x="484.44" y="210.7" width="2.7" height="16.30000000000001" fill="#a6002b" />
<text transform="translate(486.04,237.5) rotate(-45)" font-size="6.0" text-anchor="end" fill="#111" >30</text>
<line x1="342.26" y1="248.6" x2="355.52" y2="248.6" stroke="#444" stroke-width="1.1" />
<g transform="translate(351.74,255.60) rotate(-45)" font-size="6.0" text-anchor="end" fill="#111"><text x="0" y="0">Collagen</text><text x="0" y="7.5">(µg/ml)</text></g>
<line x1="363.78000000000003" y1="248.6" x2="377.04" y2="248.6" stroke="#444" stroke-width="1.1" />
<g transform="translate(373.26,255.60) rotate(-45)" font-size="6.0" text-anchor="end" fill="#111"><text x="0" y="0">CRP</text><text x="0" y="7.5">(µg/ml)</text></g>
<line x1="385.3" y1="248.6" x2="398.56" y2="248.6" stroke="#444" stroke-width="1.1" />
<g transform="translate(394.78,255.60) rotate(-45)" font-size="6.0" text-anchor="end" fill="#111"><text x="0" y="0">PAR4p</text><text x="0" y="7.5">(µM)</text></g>
<line x1="406.82" y1="248.6" x2="420.08" y2="248.6" stroke="#444" stroke-width="1.1" />
<g transform="translate(416.30,255.60) rotate(-45)" font-size="6.0" text-anchor="end" fill="#111"><text x="0" y="0">Rhodocytin</text><text x="0" y="7.5">(nM)</text></g>
<line x1="428.34" y1="248.6" x2="441.59999999999997" y2="248.6" stroke="#444" stroke-width="1.1" />
<g transform="translate(437.82,255.60) rotate(-45)" font-size="6.0" text-anchor="end" fill="#111"><text x="0" y="0">ADP</text><text x="0" y="7.5">(µM)</text></g>
<line x1="449.86" y1="248.6" x2="463.12" y2="248.6" stroke="#444" stroke-width="1.1" />
<g transform="translate(459.34,255.60) rotate(-45)" font-size="6.0" text-anchor="end" fill="#111"><text x="0" y="0">U46619</text><text x="0" y="7.5">(µM)</text></g>
<line x1="471.38" y1="248.6" x2="484.64" y2="248.6" stroke="#444" stroke-width="1.1" />
<g transform="translate(480.86,255.60) rotate(-45)" font-size="6.0" text-anchor="end" fill="#111"><text x="0" y="0">ADP+U46619</text><text x="0" y="7.5">(µM)</text></g>
<text transform="translate(302.7,195.2) rotate(-90)" font-size="7.2" text-anchor="middle" fill="#111" textLength="30" lengthAdjust="spacingAndGlyphs" class="yl">JON/A MFI</text>
<rect x="455.6" y="26.8" width="6.6" height="2.8" fill="#2e4a80" />
<rect x="455.6" y="34.4" width="6.6" height="2.8" fill="#a6002b" />
<text x="464.8" y="30.1" font-size="6.0" font-style="italic" fill="#111" textLength="20" lengthAdjust="spacingAndGlyphs">SLFN14</text>
<text x="485.4" y="26.0" font-size="4.2" font-style="italic" fill="#111">+/+</text>
<text x="464.8" y="38.1" font-size="6.0" font-style="italic" fill="#111" textLength="20" lengthAdjust="spacingAndGlyphs">SLFN14</text>
<text x="485.2" y="33.6" font-size="4.0" font-style="italic" fill="#111" textLength="11.8" lengthAdjust="spacingAndGlyphs">K208N/+</text>
<text x="7.5" y="173.2" font-size="11.3" text-anchor="start" fill="#000" font-weight="bold" class="pl">Ci</text>
<line x1="25.7" y1="187.0" x2="25.7" y2="248.4" stroke="#111" stroke-width="1.3" />
<text x="22.2" y="189.2" font-size="6.3" text-anchor="end" fill="#111" class="ns">0</text>
<text x="22.2" y="250.6" font-size="6.3" text-anchor="end" fill="#111" class="ns">100</text>
<line x1="29" y1="248.70000000000002" x2="38.3" y2="248.70000000000002" stroke="#111" stroke-width="1.2" />
<text x="33.7" y="257.0" font-size="6.3" text-anchor="middle" fill="#111" class="ns">60s</text>
<text transform="translate(13.7,218.2) rotate(-90)" font-size="7.0" text-anchor="middle" fill="#111" textLength="37" lengthAdjust="spacingAndGlyphs" class="yl">% aggregation</text>
<text x="44.8" y="250.6" font-size="6.3" text-anchor="start" fill="#2a2a2a" font-style="italic" >0.01u/ml Thrombin</text>
<path d="M25.70,186.60 C26.42,186.65 28.33,186.73 30.00,186.90 C31.67,187.07 34.45,187.63 35.70,187.60 C36.95,187.57 36.90,187.05 37.50,186.70 C38.10,186.35 38.03,185.82 39.30,185.50 C40.57,185.18 41.98,184.93 45.10,184.80 C48.22,184.67 53.43,184.62 58.00,184.70 C62.57,184.78 67.08,184.95 72.50,185.30 C77.92,185.65 87.50,186.55 90.50,186.80" fill="none" stroke="#34579a" stroke-width="1.3" stroke-linejoin="round"/>
<path d="M25.70,186.40 C26.42,186.45 28.33,186.53 30.00,186.70 C31.67,186.87 34.45,187.43 35.70,187.40 C36.95,187.37 36.90,186.85 37.50,186.50 C38.10,186.15 38.03,185.62 39.30,185.30 C40.57,184.98 41.98,184.73 45.10,184.60 C48.22,184.47 53.43,184.42 58.00,184.50 C62.57,184.58 67.08,184.75 72.50,185.10 C77.92,185.45 87.50,186.35 90.50,186.60" fill="none" stroke="#c2163e" stroke-width="1.3" stroke-linejoin="round"/>
<text x="103.8" y="173.0" font-size="11.3" text-anchor="start" fill="#000" font-weight="bold" class="pl">ii</text>
<line x1="121.7" y1="185.6" x2="121.7" y2="247.0" stroke="#111" stroke-width="1.3" />
<text x="118.2" y="187.79999999999998" font-size="6.3" text-anchor="end" fill="#111" class="ns">0</text>
<text x="118.2" y="249.2" font-size="6.3" text-anchor="end" fill="#111" class="ns">100</text>
<line x1="124" y1="247.3" x2="133.3" y2="247.3" stroke="#111" stroke-width="1.2" />
<text x="128.7" y="255.6" font-size="6.3" text-anchor="middle" fill="#111" class="ns">60s</text>
<text transform="translate(109.7,216.8) rotate(-90)" font-size="7.0" text-anchor="middle" fill="#111" textLength="37" lengthAdjust="spacingAndGlyphs" class="yl">% aggregation</text>
<text x="136.5" y="249.2" font-size="6.3" text-anchor="start" fill="#2a2a2a" font-style="italic" >0.03u/ml Thrombin</text>
<path d="M121.70,185.80 C122.58,185.82 125.12,185.88 127.00,185.90 C128.88,185.92 131.80,186.72 133.00,185.90 C134.20,185.08 133.87,182.25 134.20,181.00 C134.53,179.75 134.70,178.57 135.00,178.40 C135.30,178.23 135.58,178.98 136.00,180.00 C136.42,181.02 136.83,182.67 137.50,184.50 C138.17,186.33 139.17,189.00 140.00,191.00 C140.83,193.00 141.62,194.95 142.50,196.50 C143.38,198.05 144.38,199.93 145.30,200.30 C146.22,200.67 146.88,199.62 148.00,198.70 C149.12,197.78 150.50,196.08 152.00,194.80 C153.50,193.52 155.17,192.13 157.00,191.00 C158.83,189.87 160.83,188.83 163.00,188.00 C165.17,187.17 167.50,186.50 170.00,186.00 C172.50,185.50 175.83,185.23 178.00,185.00 C180.17,184.77 181.10,184.58 183.00,184.60 C184.90,184.62 188.33,185.02 189.40,185.10" fill="none" stroke="#34579a" stroke-width="1.3" stroke-linejoin="round"/>
<path d="M121.70,185.80 C122.58,185.82 125.12,185.88 127.00,185.90 C128.88,185.92 131.80,186.63 133.00,185.90 C134.20,185.17 133.87,182.68 134.20,181.50 C134.53,180.32 134.70,178.97 135.00,178.80 C135.30,178.63 135.58,179.47 136.00,180.50 C136.42,181.53 136.83,183.12 137.50,185.00 C138.17,186.88 139.22,189.88 140.00,191.80 C140.78,193.72 141.50,195.30 142.20,196.50 C142.90,197.70 143.40,198.83 144.20,199.00 C145.00,199.17 145.87,198.33 147.00,197.50 C148.13,196.67 149.50,195.13 151.00,194.00 C152.50,192.87 154.00,191.73 156.00,190.70 C158.00,189.67 160.67,188.58 163.00,187.80 C165.33,187.02 167.50,186.43 170.00,186.00 C172.50,185.57 175.83,185.38 178.00,185.20 C180.17,185.02 181.10,184.88 183.00,184.90 C184.90,184.92 188.33,185.23 189.40,185.30" fill="none" stroke="#c2163e" stroke-width="1.3" stroke-linejoin="round"/>
<text x="195.5" y="173.0" font-size="11.3" text-anchor="start" fill="#000" font-weight="bold" class="pl">iii</text>
<line x1="214.4" y1="181.8" x2="214.4" y2="247.6" stroke="#111" stroke-width="1.3" />
<text x="210.9" y="184.0" font-size="6.3" text-anchor="end" fill="#111" class="ns">0</text>
<text x="210.9" y="249.79999999999998" font-size="6.3" text-anchor="end" fill="#111" class="ns">100</text>
<line x1="217.2" y1="247.9" x2="226.5" y2="247.9" stroke="#111" stroke-width="1.2" />
<text x="221.89999999999998" y="256.2" font-size="6.3" text-anchor="middle" fill="#111" class="ns">60s</text>
<text transform="translate(202.4,215.2) rotate(-90)" font-size="7.0" text-anchor="middle" fill="#111" textLength="37" lengthAdjust="spacingAndGlyphs" class="yl">% aggregation</text>
<text x="234" y="249.79999999999998" font-size="6.3" text-anchor="start" fill="#2a2a2a" font-style="italic" >0.06u/ml Thrombin</text>
<path d="M214.40,181.80 C215.17,181.83 217.48,181.98 219.00,182.00 C220.52,182.02 222.53,182.48 223.50,181.90 C224.47,181.32 224.50,179.28 224.80,178.50 C225.10,177.72 225.12,176.62 225.30,177.20 C225.48,177.78 225.72,179.73 225.90,182.00 C226.08,184.27 226.07,187.65 226.40,190.80 C226.73,193.95 227.30,197.78 227.90,200.90 C228.50,204.02 229.05,206.98 230.00,209.50 C230.95,212.02 232.52,214.47 233.60,216.00 C234.68,217.53 235.28,217.95 236.50,218.70 C237.72,219.45 239.32,219.88 240.90,220.50 C242.48,221.12 244.08,221.82 246.00,222.40 C247.92,222.98 250.23,223.53 252.40,224.00 C254.57,224.47 256.60,224.85 259.00,225.20 C261.40,225.55 263.08,225.73 266.80,226.10 C270.52,226.47 278.88,227.18 281.30,227.40" fill="none" stroke="#34579a" stroke-width="1.3" stroke-linejoin="round"/>
<path d="M214.40,181.80 C215.17,181.83 217.48,181.98 219.00,182.00 C220.52,182.02 222.53,182.48 223.50,181.90 C224.47,181.32 224.50,179.28 224.80,178.50 C225.10,177.72 225.10,177.12 225.30,177.20 C225.50,177.28 225.82,178.18 226.00,179.00 C226.18,179.82 226.08,179.90 226.40,182.10 C226.72,184.30 227.30,189.07 227.90,192.20 C228.50,195.33 229.28,198.37 230.00,200.90 C230.72,203.43 231.12,205.37 232.20,207.40 C233.28,209.43 234.58,211.67 236.50,213.10 C238.42,214.53 241.62,215.25 243.70,216.00 C245.78,216.75 247.07,217.12 249.00,217.60 C250.93,218.08 253.13,218.50 255.30,218.90 C257.47,219.30 259.60,219.63 262.00,220.00 C264.40,220.37 266.48,220.63 269.70,221.10 C272.92,221.57 279.37,222.52 281.30,222.80" fill="none" stroke="#c2163e" stroke-width="1.3" stroke-linejoin="round"/>
<text x="7.5" y="283.2" font-size="11.3" text-anchor="start" fill="#000" font-weight="bold" class="pl">Di</text>
<line x1="25.7" y1="292.3" x2="25.7" y2="353.0" stroke="#111" stroke-width="1.3" />
<text x="22.2" y="294.5" font-size="6.3" text-anchor="end" fill="#111" class="ns">0</text>
<text x="22.2" y="355.2" font-size="6.3" text-anchor="end" fill="#111" class="ns">100</text>
<line x1="28.3" y1="353.3" x2="37.6" y2="353.3" stroke="#111" stroke-width="1.2" />
<text x="33.0" y="361.6" font-size="6.3" text-anchor="middle" fill="#111" class="ns">60s</text>
<text transform="translate(13.7,323.15) rotate(-90)" font-size="7.0" text-anchor="middle" fill="#111" textLength="37" lengthAdjust="spacingAndGlyphs" class="yl">% aggregation</text>
<text x="47.8" y="355.2" font-size="6.3" text-anchor="start" fill="#2a2a2a" font-style="italic" >1µg/ml Collagen</text>
<path d="M25.70,292.30 C26.75,292.33 30.12,292.42 32.00,292.50 C33.88,292.58 35.78,292.78 37.00,292.80 C38.22,292.82 38.63,292.95 39.30,292.60 C39.97,292.25 40.47,291.37 41.00,290.70 C41.53,290.03 41.92,289.30 42.50,288.60 C43.08,287.90 43.83,287.00 44.50,286.50 C45.17,286.00 45.75,285.63 46.50,285.60 C47.25,285.57 48.08,285.98 49.00,286.30 C49.92,286.62 50.50,286.98 52.00,287.50 C53.50,288.02 55.78,288.83 58.00,289.40 C60.22,289.97 61.68,290.17 65.30,290.90 C68.92,291.63 75.37,292.97 79.70,293.80 C84.03,294.63 89.37,295.55 91.30,295.90" fill="none" stroke="#c2163e" stroke-width="1.3" stroke-linejoin="round"/>
<path d="M25.70,292.30 C26.75,292.33 30.12,292.42 32.00,292.50 C33.88,292.58 35.78,292.78 37.00,292.80 C38.22,292.82 38.63,292.95 39.30,292.60 C39.97,292.25 40.47,291.37 41.00,290.70 C41.53,290.03 41.92,289.33 42.50,288.60 C43.08,287.87 43.83,286.85 44.50,286.30 C45.17,285.75 45.75,285.40 46.50,285.30 C47.25,285.20 47.58,285.43 49.00,285.70 C50.42,285.97 52.28,286.38 55.00,286.90 C57.72,287.42 61.18,288.12 65.30,288.80 C69.42,289.48 75.37,290.32 79.70,291.00 C84.03,291.68 89.37,292.58 91.30,292.90" fill="none" stroke="#34579a" stroke-width="1.3" stroke-linejoin="round"/>
<text x="99.5" y="282.7" font-size="11.3" text-anchor="start" fill="#000" font-weight="bold" class="pl">ii</text>
<line x1="117.1" y1="290.5" x2="117.1" y2="351.5" stroke="#111" stroke-width="1.3" />
<text x="113.6" y="292.7" font-size="6.3" text-anchor="end" fill="#111" class="ns">0</text>
<text x="113.6" y="353.7" font-size="6.3" text-anchor="end" fill="#111" class="ns">100</text>
<line x1="118.9" y1="351.8" x2="128.20000000000002" y2="351.8" stroke="#111" stroke-width="1.2" />
<text x="123.60000000000001" y="360.1" font-size="6.3" text-anchor="middle" fill="#111" class="ns">60s</text>
<text transform="translate(105.1,321.5) rotate(-90)" font-size="7.0" text-anchor="middle" fill="#111" textLength="37" lengthAdjust="spacingAndGlyphs" class="yl">% aggregation</text>
<text x="139.8" y="353.7" font-size="6.3" text-anchor="start" fill="#2a2a2a" font-style="italic" >3µg/ml Collagen</text>
<path d="M117.10,290.50 C118.42,290.63 122.95,291.02 125.00,291.30 C127.05,291.58 128.40,292.58 129.40,292.20 C130.40,291.82 130.52,290.17 131.00,289.00 C131.48,287.83 131.87,285.20 132.30,285.20 C132.73,285.20 133.15,287.12 133.60,289.00 C134.05,290.88 134.50,293.92 135.00,296.50 C135.50,299.08 135.85,301.58 136.60,304.50 C137.35,307.42 138.28,311.47 139.50,314.00 C140.72,316.53 141.98,318.03 143.90,319.70 C145.82,321.37 148.60,322.87 151.00,324.00 C153.40,325.13 155.97,325.78 158.30,326.50 C160.63,327.22 162.60,327.75 165.00,328.30 C167.40,328.85 169.73,329.32 172.70,329.80 C175.67,330.28 181.12,330.97 182.80,331.20" fill="none" stroke="#c2163e" stroke-width="1.3" stroke-linejoin="round"/>
<path d="M117.10,290.50 C118.42,290.63 122.95,291.02 125.00,291.30 C127.05,291.58 128.40,292.58 129.40,292.20 C130.40,291.82 130.52,290.20 131.00,289.00 C131.48,287.80 131.87,285.25 132.30,285.00 C132.73,284.75 133.15,286.25 133.60,287.50 C134.05,288.75 134.50,290.62 135.00,292.50 C135.50,294.38 135.85,296.07 136.60,298.80 C137.35,301.53 138.28,306.03 139.50,308.90 C140.72,311.77 141.98,313.85 143.90,316.00 C145.82,318.15 148.60,320.35 151.00,321.80 C153.40,323.25 155.97,323.95 158.30,324.70 C160.63,325.45 162.60,325.82 165.00,326.30 C167.40,326.78 170.20,327.18 172.70,327.60 C175.20,328.02 177.83,328.43 180.00,328.80 C182.17,329.17 184.75,329.63 185.70,329.80" fill="none" stroke="#34579a" stroke-width="1.3" stroke-linejoin="round"/>
<line x1="188.9" y1="315.5" x2="196.6" y2="315.5" stroke="#34579a" stroke-width="1.3" />
<line x1="188.9" y1="323.9" x2="196.6" y2="323.9" stroke="#c2163e" stroke-width="1.3" />
<text x="200" y="317.6" font-size="6.2" font-style="italic" fill="#111" textLength="19.3" lengthAdjust="spacingAndGlyphs">SLFN14</text>
<text x="219.7" y="313.4" font-size="4.2" font-style="italic" fill="#111">+/+</text>
<text x="200" y="326.0" font-size="6.2" font-style="italic" fill="#111" textLength="19.3" lengthAdjust="spacingAndGlyphs">SLFN14</text>
<text x="219.7" y="321.8" font-size="4.0" font-style="italic" fill="#111" textLength="12.4" lengthAdjust="spacingAndGlyphs">K208N/+</text>
<text x="7.4" y="388.7" font-size="11.3" text-anchor="start" fill="#000" font-weight="bold" class="pl">Ei</text>
<line x1="25.8" y1="398.0" x2="25.8" y2="460.2" stroke="#111" stroke-width="1.3" />
<text x="22.3" y="400.2" font-size="6.3" text-anchor="end" fill="#111" class="ns">0</text>
<text x="22.3" y="462.4" font-size="6.3" text-anchor="end" fill="#111" class="ns">100</text>
<line x1="28.2" y1="460.5" x2="37.5" y2="460.5" stroke="#111" stroke-width="1.2" />
<text x="32.9" y="468.8" font-size="6.3" text-anchor="middle" fill="#111" class="ns">60s</text>
<text transform="translate(13.8,429.6) rotate(-90)" font-size="7.0" text-anchor="middle" fill="#111" textLength="37" lengthAdjust="spacingAndGlyphs" class="yl">% aggregation</text>
<text x="50.3" y="462.4" font-size="6.3" text-anchor="start" fill="#2a2a2a" font-style="italic" >1µg/ml CRP</text>
<path d="M25.80,398.10 C26.50,398.12 28.47,398.13 30.00,398.20 C31.53,398.27 33.57,398.33 35.00,398.50 C36.43,398.67 37.60,399.23 38.60,399.20 C39.60,399.17 40.10,398.77 41.00,398.30 C41.90,397.83 43.00,396.93 44.00,396.40 C45.00,395.87 45.85,395.42 47.00,395.10 C48.15,394.78 49.40,394.53 50.90,394.50 C52.40,394.47 54.15,394.68 56.00,394.90 C57.85,395.12 59.73,395.45 62.00,395.80 C64.27,396.15 66.60,396.58 69.60,397.00 C72.60,397.42 76.75,397.88 80.00,398.30 C83.25,398.72 87.58,399.30 89.10,399.50" fill="none" stroke="#c2163e" stroke-width="1.3" stroke-linejoin="round"/>
<path d="M25.80,398.10 C26.50,398.12 28.47,398.13 30.00,398.20 C31.53,398.27 33.57,398.32 35.00,398.50 C36.43,398.68 37.60,399.25 38.60,399.30 C39.60,399.35 40.10,399.12 41.00,398.80 C41.90,398.48 43.00,397.83 44.00,397.40 C45.00,396.97 45.85,396.50 47.00,396.20 C48.15,395.90 49.40,395.67 50.90,395.60 C52.40,395.53 54.15,395.68 56.00,395.80 C57.85,395.92 59.73,396.08 62.00,396.30 C64.27,396.52 66.60,396.77 69.60,397.10 C72.60,397.43 76.75,397.90 80.00,398.30 C83.25,398.70 87.58,399.30 89.10,399.50" fill="none" stroke="#34579a" stroke-width="1.3" stroke-linejoin="round"/>
<text x="97" y="388.2" font-size="11.3" text-anchor="start" fill="#000" font-weight="bold" class="pl">ii</text>
<line x1="114.6" y1="398.0" x2="114.6" y2="460.2" stroke="#111" stroke-width="1.3" />
<text x="111.1" y="400.2" font-size="6.3" text-anchor="end" fill="#111" class="ns">0</text>
<text x="111.1" y="462.4" font-size="6.3" text-anchor="end" fill="#111" class="ns">100</text>
<line x1="117" y1="460.5" x2="126.3" y2="460.5" stroke="#111" stroke-width="1.2" />
<text x="121.7" y="468.8" font-size="6.3" text-anchor="middle" fill="#111" class="ns">60s</text>
<text transform="translate(102.6,429.6) rotate(-90)" font-size="7.0" text-anchor="middle" fill="#111" textLength="37" lengthAdjust="spacingAndGlyphs" class="yl">% aggregation</text>
<text x="137.2" y="462.4" font-size="6.3" text-anchor="start" fill="#2a2a2a" font-style="italic" >3µg/ml CRP</text>
<path d="M114.60,398.10 C115.33,398.13 117.52,398.18 119.00,398.30 C120.48,398.42 122.13,398.62 123.50,398.80 C124.87,398.98 126.12,399.88 127.20,399.40 C128.28,398.92 128.93,396.83 130.00,395.90 C131.07,394.97 132.38,394.03 133.60,393.80 C134.82,393.57 136.08,393.78 137.30,394.50 C138.52,395.22 139.58,396.53 140.90,398.10 C142.22,399.67 143.52,401.73 145.20,403.90 C146.88,406.07 148.83,408.82 151.00,411.10 C153.17,413.38 155.57,415.80 158.20,417.60 C160.83,419.40 164.33,420.75 166.80,421.90 C169.27,423.05 170.83,423.65 173.00,424.50 C175.17,425.35 178.67,426.58 179.80,427.00" fill="none" stroke="#34579a" stroke-width="1.3" stroke-linejoin="round"/>
<path d="M114.60,398.10 C115.33,398.13 117.52,398.18 119.00,398.30 C120.48,398.42 122.13,398.60 123.50,398.80 C124.87,399.00 126.12,399.98 127.20,399.50 C128.28,399.02 128.93,396.85 130.00,395.90 C131.07,394.95 132.63,394.03 133.60,393.80 C134.57,393.57 134.83,393.78 135.80,394.50 C136.77,395.22 138.08,396.30 139.40,398.10 C140.72,399.90 142.25,403.02 143.70,405.30 C145.15,407.58 146.65,410.00 148.10,411.80 C149.55,413.60 150.72,414.78 152.40,416.10 C154.08,417.42 155.80,418.48 158.20,419.70 C160.60,420.92 164.33,422.47 166.80,423.40 C169.27,424.33 170.83,424.70 173.00,425.30 C175.17,425.90 178.67,426.72 179.80,427.00" fill="none" stroke="#c2163e" stroke-width="1.3" stroke-linejoin="round"/>
<text x="188" y="388.8" font-size="11.3" text-anchor="start" fill="#000" font-weight="bold" class="pl">iii</text>
<line x1="206.6" y1="398.0" x2="206.6" y2="460.2" stroke="#111" stroke-width="1.3" />
<text x="203.1" y="400.2" font-size="6.3" text-anchor="end" fill="#111" class="ns">0</text>
<text x="203.1" y="462.4" font-size="6.3" text-anchor="end" fill="#111" class="ns">100</text>
<line x1="209.6" y1="460.5" x2="218.9" y2="460.5" stroke="#111" stroke-width="1.2" />
<text x="214.29999999999998" y="468.8" font-size="6.3" text-anchor="middle" fill="#111" class="ns">60s</text>
<text transform="translate(194.6,429.6) rotate(-90)" font-size="7.0" text-anchor="middle" fill="#111" textLength="37" lengthAdjust="spacingAndGlyphs" class="yl">% aggregation</text>
<text x="229.2" y="462.4" font-size="6.3" text-anchor="start" fill="#2a2a2a" font-style="italic" >10µg/ml CRP</text>
<path d="M206.60,398.30 C207.33,398.38 209.63,398.58 211.00,398.80 C212.37,399.02 213.80,399.78 214.80,399.60 C215.80,399.42 216.38,398.37 217.00,397.70 C217.62,397.03 217.97,395.20 218.50,395.60 C219.03,396.00 219.58,397.73 220.20,400.10 C220.82,402.47 221.53,406.48 222.20,409.80 C222.87,413.12 223.53,417.38 224.20,420.00 C224.87,422.62 225.30,424.00 226.20,425.50 C227.10,427.00 228.13,427.85 229.60,429.00 C231.07,430.15 232.53,431.38 235.00,432.40 C237.47,433.42 240.60,434.32 244.40,435.10 C248.20,435.88 253.53,436.58 257.80,437.10 C262.07,437.62 267.97,438.02 270.00,438.20" fill="none" stroke="#c2163e" stroke-width="1.3" stroke-linejoin="round"/>
<path d="M206.60,398.30 C207.33,398.38 209.63,398.62 211.00,398.80 C212.37,398.98 213.80,399.62 214.80,399.40 C215.80,399.18 216.38,398.17 217.00,397.50 C217.62,396.83 217.97,394.97 218.50,395.40 C219.03,395.83 219.58,397.63 220.20,400.10 C220.82,402.57 221.53,406.72 222.20,410.20 C222.87,413.68 223.53,418.20 224.20,421.00 C224.87,423.80 225.30,425.33 226.20,427.00 C227.10,428.67 228.13,429.77 229.60,431.00 C231.07,432.23 232.53,433.38 235.00,434.40 C237.47,435.42 240.60,436.32 244.40,437.10 C248.20,437.88 253.53,438.53 257.80,439.10 C262.07,439.67 267.97,440.27 270.00,440.50" fill="none" stroke="#34579a" stroke-width="1.3" stroke-linejoin="round"/>
<text x="296.2" y="326" font-size="11.3" text-anchor="start" fill="#000" font-weight="bold" class="pl">F</text>
<text x="348.3" y="338.0" font-size="6.6" text-anchor="middle" fill="#111" textLength="52.6" lengthAdjust="spacingAndGlyphs" >Collagen (10µg/ml)</text>
<line x1="308.2" y1="342.3" x2="388" y2="342.3" stroke="#333" stroke-width="1.1" />
<text x="451.6" y="337.8" font-size="6.6" text-anchor="middle" fill="#111" textLength="61.3" lengthAdjust="spacingAndGlyphs" >Fibrinogen (100µg/ml)</text>
<line x1="390.3" y1="342.3" x2="512.5" y2="342.3" stroke="#333" stroke-width="1.1" />
<text x="488.3" y="351.4" font-size="6.6" text-anchor="middle" fill="#111" textLength="48.5" lengthAdjust="spacingAndGlyphs" >0.1U/ml Thrombin</text>
<line x1="464" y1="355.3" x2="512.8" y2="355.3" stroke="#333" stroke-width="1.1" />
<rect x="308.8" y="358.0" width="40.099999999999966" height="53.80000000000001" fill="#6e6e6e" />
<line x1="326.9" y1="388.1" x2="336.1" y2="400.3" stroke="#646464" stroke-width="0.7" opacity="0.7"/>
<line x1="327.5" y1="385.3" x2="334.6" y2="394.8" stroke="#787878" stroke-width="0.7" opacity="0.7"/>
<line x1="316.2" y1="385.5" x2="323.6" y2="395.4" stroke="#646464" stroke-width="0.7" opacity="0.7"/>
<line x1="340.6" y1="363.1" x2="346.0" y2="370.3" stroke="#787878" stroke-width="0.7" opacity="0.7"/>
<line x1="312.4" y1="401.6" x2="320.2" y2="411.8" stroke="#646464" stroke-width="0.7" opacity="0.7"/>
<line x1="310.5" y1="410.8" x2="319.9" y2="411.8" stroke="#787878" stroke-width="0.7" opacity="0.7"/>
<line x1="335.0" y1="391.1" x2="339.6" y2="397.2" stroke="#646464" stroke-width="0.7" opacity="0.7"/>
<rect x="308.8" y="358.0" width="40.1" height="0.8" fill="#000" opacity="0.25"/>
<rect x="350.0" y="358.0" width="38.5" height="53.80000000000001" fill="#000" />
<rect x="390.6" y="358.0" width="41.39999999999998" height="53.80000000000001" fill="#969696" />
<line x1="391.2" y1="386.4" x2="395.2" y2="391.7" stroke="#8c8c8c" stroke-width="0.7" opacity="0.7"/>
<line x1="398.5" y1="371.0" x2="402.3" y2="376.1" stroke="#a0a0a0" stroke-width="0.7" opacity="0.7"/>
<line x1="409.8" y1="381.7" x2="418.5" y2="393.2" stroke="#8c8c8c" stroke-width="0.7" opacity="0.7"/>
<line x1="412.1" y1="392.4" x2="418.7" y2="401.2" stroke="#a0a0a0" stroke-width="0.7" opacity="0.7"/>
<line x1="418.0" y1="382.6" x2="423.3" y2="389.6" stroke="#8c8c8c" stroke-width="0.7" opacity="0.7"/>
<line x1="431.9" y1="411.6" x2="432.0" y2="411.8" stroke="#a0a0a0" stroke-width="0.7" opacity="0.7"/>
<line x1="419.9" y1="375.0" x2="424.9" y2="381.6" stroke="#8c8c8c" stroke-width="0.7" opacity="0.7"/>
<rect x="390.6" y="358.0" width="41.4" height="0.8" fill="#000" opacity="0.25"/>
<rect x="433.2" y="358.0" width="38.900000000000034" height="53.80000000000001" fill="#000" />
<rect x="473.8" y="358.0" width="39.19999999999999" height="53.80000000000001" fill="#000" />
<rect x="308.8" y="413.9" width="40.099999999999966" height="55.80000000000001" fill="#6b6b6b" />
<line x1="320.4" y1="417.8" x2="328.6" y2="428.7" stroke="#616161" stroke-width="0.7" opacity="0.7"/>
<line x1="324.9" y1="461.1" x2="330.8" y2="469.0" stroke="#757575" stroke-width="0.7" opacity="0.7"/>
<line x1="347.2" y1="461.2" x2="348.9" y2="466.0" stroke="#616161" stroke-width="0.7" opacity="0.7"/>
<line x1="317.2" y1="464.7" x2="323.6" y2="469.7" stroke="#757575" stroke-width="0.7" opacity="0.7"/>
<line x1="348.1" y1="436.1" x2="348.9" y2="441.5" stroke="#616161" stroke-width="0.7" opacity="0.7"/>
<line x1="334.0" y1="457.3" x2="339.3" y2="464.3" stroke="#757575" stroke-width="0.7" opacity="0.7"/>
<line x1="312.3" y1="432.5" x2="321.7" y2="445.0" stroke="#616161" stroke-width="0.7" opacity="0.7"/>
<rect x="308.8" y="413.9" width="40.1" height="0.8" fill="#000" opacity="0.25"/>
<rect x="350.0" y="413.9" width="38.5" height="55.80000000000001" fill="#000" />
<rect x="390.6" y="413.9" width="41.39999999999998" height="55.80000000000001" fill="#636363" />
<line x1="422.0" y1="420.5" x2="427.1" y2="427.3" stroke="#595959" stroke-width="0.7" opacity="0.7"/>
<line x1="394.8" y1="417.2" x2="403.2" y2="428.4" stroke="#6d6d6d" stroke-width="0.7" opacity="0.7"/>
<line x1="398.0" y1="445.1" x2="404.2" y2="453.5" stroke="#595959" stroke-width="0.7" opacity="0.7"/>
<line x1="398.5" y1="454.7" x2="402.9" y2="460.6" stroke="#6d6d6d" stroke-width="0.7" opacity="0.7"/>
<line x1="417.2" y1="420.4" x2="423.4" y2="428.6" stroke="#595959" stroke-width="0.7" opacity="0.7"/>
<line x1="399.4" y1="429.0" x2="408.8" y2="441.5" stroke="#6d6d6d" stroke-width="0.7" opacity="0.7"/>
<line x1="423.9" y1="430.9" x2="432.0" y2="442.8" stroke="#595959" stroke-width="0.7" opacity="0.7"/>
<rect x="390.6" y="413.9" width="41.4" height="0.8" fill="#000" opacity="0.25"/>
<rect x="433.2" y="413.9" width="38.900000000000034" height="55.80000000000001" fill="#000" />
<rect x="473.8" y="413.9" width="39.19999999999999" height="55.80000000000001" fill="#000" />
<ellipse cx="323.2" cy="362.7" rx="1.3" ry="1.0" fill="#2a2a2a" opacity="0.55" filter="url(#bl)"/>
<ellipse cx="324.1" cy="364.3" rx="1.0" ry="0.8" fill="#d8d8d8" opacity="0.55" filter="url(#bl)"/>
<ellipse cx="337.6" cy="380.7" rx="1.3" ry="1.0" fill="#2a2a2a" opacity="0.55" filter="url(#bl)"/>
<ellipse cx="338.4" cy="382.3" rx="1.0" ry="0.8" fill="#d8d8d8" opacity="0.55" filter="url(#bl)"/>
<ellipse cx="335.1" cy="391.9" rx="0.8" ry="0.6" fill="#3a3a3a" opacity="0.55" filter="url(#bl)"/>
<ellipse cx="335.9" cy="393.5" rx="0.6" ry="0.5" fill="#a0a0a0" opacity="0.55" filter="url(#bl)"/>
<ellipse cx="326.6" cy="396.2" rx="0.7" ry="0.6" fill="#4a4a4a" opacity="0.55" filter="url(#bl)"/>
<ellipse cx="327.4" cy="397.8" rx="0.6" ry="0.4" fill="#999" opacity="0.55" filter="url(#bl)"/>
<ellipse cx="330.9" cy="417.9" rx="0.9" ry="0.7" fill="#2a2a2a" opacity="0.55" filter="url(#bl)"/>
<ellipse cx="332.1" cy="419.1" rx="0.7" ry="0.5" fill="#d8d8d8" opacity="0.55" filter="url(#bl)"/>
<ellipse cx="323.9" cy="426.9" rx="1.3" ry="1.0" fill="#2a2a2a" opacity="0.55" filter="url(#bl)"/>
<ellipse cx="325.1" cy="428.1" rx="1.0" ry="0.8" fill="#d8d8d8" opacity="0.55" filter="url(#bl)"/>
<ellipse cx="336.9" cy="424.4" rx="0.7" ry="0.6" fill="#444" opacity="0.55" filter="url(#bl)"/>
<ellipse cx="338.1" cy="425.6" rx="0.6" ry="0.4" fill="#999" opacity="0.55" filter="url(#bl)"/>
<ellipse cx="397.4" cy="363.4" rx="0.6" ry="0.5" fill="#555" opacity="0.55" filter="url(#bl)"/>
<ellipse cx="398.6" cy="364.6" rx="0.5" ry="0.4" fill="#c8c8c8" opacity="0.55" filter="url(#bl)"/>
<ellipse cx="403.4" cy="370.4" rx="0.6" ry="0.5" fill="#555" opacity="0.55" filter="url(#bl)"/>
<ellipse cx="404.6" cy="371.6" rx="0.5" ry="0.4" fill="#c8c8c8" opacity="0.55" filter="url(#bl)"/>
<ellipse cx="411.4" cy="361.4" rx="0.6" ry="0.5" fill="#555" opacity="0.55" filter="url(#bl)"/>
<ellipse cx="412.6" cy="362.6" rx="0.5" ry="0.4" fill="#c8c8c8" opacity="0.55" filter="url(#bl)"/>
<ellipse cx="418.4" cy="367.4" rx="0.6" ry="0.5" fill="#555" opacity="0.55" filter="url(#bl)"/>
<ellipse cx="419.6" cy="368.6" rx="0.5" ry="0.4" fill="#c8c8c8" opacity="0.55" filter="url(#bl)"/>
<ellipse cx="400.4" cy="377.4" rx="0.6" ry="0.5" fill="#555" opacity="0.55" filter="url(#bl)"/>
<ellipse cx="401.6" cy="378.6" rx="0.5" ry="0.4" fill="#c8c8c8" opacity="0.55" filter="url(#bl)"/>
<ellipse cx="408.4" cy="379.4" rx="0.6" ry="0.5" fill="#555" opacity="0.55" filter="url(#bl)"/>
<ellipse cx="409.6" cy="380.6" rx="0.5" ry="0.4" fill="#c8c8c8" opacity="0.55" filter="url(#bl)"/>
<ellipse cx="423.4" cy="374.4" rx="0.6" ry="0.5" fill="#555" opacity="0.55" filter="url(#bl)"/>
<ellipse cx="424.6" cy="375.6" rx="0.5" ry="0.4" fill="#c8c8c8" opacity="0.55" filter="url(#bl)"/>
<ellipse cx="395.4" cy="386.4" rx="0.6" ry="0.5" fill="#555" opacity="0.55" filter="url(#bl)"/>
<ellipse cx="396.6" cy="387.6" rx="0.5" ry="0.4" fill="#c8c8c8" opacity="0.55" filter="url(#bl)"/>
<ellipse cx="415.4" cy="384.4" rx="0.6" ry="0.5" fill="#555" opacity="0.55" filter="url(#bl)"/>
<ellipse cx="416.6" cy="385.6" rx="0.5" ry="0.4" fill="#c8c8c8" opacity="0.55" filter="url(#bl)"/>
<ellipse cx="404.4" cy="391.4" rx="0.6" ry="0.5" fill="#555" opacity="0.55" filter="url(#bl)"/>
<ellipse cx="405.6" cy="392.6" rx="0.5" ry="0.4" fill="#c8c8c8" opacity="0.55" filter="url(#bl)"/>
<ellipse cx="398.4" cy="397.4" rx="0.6" ry="0.5" fill="#555" opacity="0.55" filter="url(#bl)"/>
<ellipse cx="399.6" cy="398.6" rx="0.5" ry="0.4" fill="#c8c8c8" opacity="0.55" filter="url(#bl)"/>
<ellipse cx="420.4" cy="393.4" rx="0.6" ry="0.5" fill="#555" opacity="0.55" filter="url(#bl)"/>
<ellipse cx="421.6" cy="394.6" rx="0.5" ry="0.4" fill="#c8c8c8" opacity="0.55" filter="url(#bl)"/>
<ellipse cx="399.4" cy="424.4" rx="0.5" ry="0.4" fill="#444" opacity="0.55" filter="url(#bl)"/>
<ellipse cx="400.6" cy="425.6" rx="0.4" ry="0.3" fill="#808080" opacity="0.55" filter="url(#bl)"/>
<ellipse cx="411.4" cy="431.4" rx="0.5" ry="0.4" fill="#444" opacity="0.55" filter="url(#bl)"/>
<ellipse cx="412.6" cy="432.6" rx="0.4" ry="0.3" fill="#808080" opacity="0.55" filter="url(#bl)"/>
<ellipse cx="421.4" cy="439.4" rx="0.5" ry="0.4" fill="#444" opacity="0.55" filter="url(#bl)"/>
<ellipse cx="422.6" cy="440.6" rx="0.4" ry="0.3" fill="#808080" opacity="0.55" filter="url(#bl)"/>
<ellipse cx="403.4" cy="445.4" rx="0.5" ry="0.4" fill="#444" opacity="0.55" filter="url(#bl)"/>
<ellipse cx="404.6" cy="446.6" rx="0.4" ry="0.3" fill="#808080" opacity="0.55" filter="url(#bl)"/>
<ellipse cx="417.4" cy="451.4" rx="0.5" ry="0.4" fill="#444" opacity="0.55" filter="url(#bl)"/>
<ellipse cx="418.6" cy="452.6" rx="0.4" ry="0.3" fill="#808080" opacity="0.55" filter="url(#bl)"/>
<ellipse cx="396.4" cy="457.4" rx="0.5" ry="0.4" fill="#444" opacity="0.55" filter="url(#bl)"/>
<ellipse cx="397.6" cy="458.6" rx="0.4" ry="0.3" fill="#808080" opacity="0.55" filter="url(#bl)"/>
<ellipse cx="360.6" cy="366" rx="1.5" ry="2.6" transform="rotate(-20 360.6 366)" fill="#55c955" fill-opacity="0.85"/>
<polygon points="375.5,370.2 372.5,373.4 371.1,372.7 370.5,369.4 372.6,366.3 374.3,367.8" fill="#1e5a1e" fill-opacity="0.55" stroke="#55c955" stroke-width="1.2" stroke-linejoin="round"/>
<polygon points="359.5,374.9 358.1,377.1 355.5,377.6 354.2,374.8 356.4,372.5 357.9,371.8" fill="#1e5a1e" fill-opacity="0.55" stroke="#55c955" stroke-width="1.2" stroke-linejoin="round"/>
<polygon points="371.4,378.3 370.2,379.8 367.4,379.5 366.7,378.0 367.3,376.9 370.3,376.5" fill="#1e5a1e" fill-opacity="0.55" stroke="#55c955" stroke-width="1.2" stroke-linejoin="round"/>
<polygon points="363.3,381.5 361.9,384.1 360.7,384.9 359.2,383.7 358.4,380.6 360.4,379.5 362.4,380.6" fill="#1e5a1e" fill-opacity="0.55" stroke="#55c955" stroke-width="1.2" stroke-linejoin="round"/>
<polygon points="364.8,386.3 363.8,388.7 361.6,388.7 362.0,385.4 363.1,384.7" fill="#1e5a1e" fill-opacity="0.55" stroke="#55c955" stroke-width="1.2" stroke-linejoin="round"/>
<polygon points="372.1,388.3 370.4,390.1 369.0,390.2 366.8,387.2 369.0,385.8 370.9,385.8" fill="#1e5a1e" fill-opacity="0.55" stroke="#55c955" stroke-width="1.2" stroke-linejoin="round"/>
<polygon points="358.7,392.8 357.7,396.0 354.3,396.7 353.5,392.7 355.2,389.4 357.0,389.8" fill="#1e5a1e" fill-opacity="0.55" stroke="#55c955" stroke-width="1.2" stroke-linejoin="round"/>
<polygon points="364.8,394.0 363.2,395.6 361.3,394.6 361.3,392.7 363.6,392.2" fill="#1e5a1e" fill-opacity="0.55" stroke="#55c955" stroke-width="1.2" stroke-linejoin="round"/>
<polygon points="371.5,395.0 369.3,396.8 366.8,395.2 366.8,391.9 369.1,390.4" fill="#1e5a1e" fill-opacity="0.55" stroke="#55c955" stroke-width="1.2" stroke-linejoin="round"/>
<ellipse cx="384.6" cy="392" rx="1.4" ry="2.4" transform="rotate(0 384.6 392)" fill="#55c955" fill-opacity="0.85"/>
<polygon points="367.8,416.8 368.3,418.8 365.9,419.5 364.8,416.7 366.8,415.7" fill="#1e5a1e" fill-opacity="0.55" stroke="#55c955" stroke-width="1.2" stroke-linejoin="round"/>
<polygon points="376.6,423.9 376.3,426.3 372.3,426.1 371.4,422.7 373.0,420.8 375.5,420.2" fill="#1e5a1e" fill-opacity="0.55" stroke="#55c955" stroke-width="1.2" stroke-linejoin="round"/>
<polygon points="381.0,425.3 379.6,427.3 377.8,427.7 375.5,423.6 377.3,420.9 379.4,421.8" fill="#1e5a1e" fill-opacity="0.55" stroke="#55c955" stroke-width="1.2" stroke-linejoin="round"/>
<ellipse cx="360.4" cy="426.4" rx="0.9" ry="2.4" transform="rotate(35 360.4 426.4)" fill="#55c955" fill-opacity="0.85"/>
<polygon points="355.5,433.3 353.5,436.6 351.7,437.2 349.5,434.6 350.2,431.6 352.4,430.0 354.4,430.5" fill="#1e5a1e" fill-opacity="0.55" stroke="#55c955" stroke-width="1.2" stroke-linejoin="round"/>
<polygon points="387.2,432.1 385.9,434.0 384.9,434.4 383.3,432.9 384.3,430.3 385.8,429.4" fill="#1e5a1e" fill-opacity="0.55" stroke="#55c955" stroke-width="1.2" stroke-linejoin="round"/>
<polygon points="381.9,439.8 380.7,442.5 379.6,442.8 377.1,441.0 377.1,438.9 379.0,438.4 380.7,438.0" fill="#1e5a1e" fill-opacity="0.55" stroke="#55c955" stroke-width="1.2" stroke-linejoin="round"/>
<polygon points="387.2,445.2 385.1,448.2 382.7,447.9 382.4,446.3 383.5,442.1 385.6,442.4" fill="#1e5a1e" fill-opacity="0.55" stroke="#55c955" stroke-width="1.2" stroke-linejoin="round"/>
<polygon points="359.9,453.8 358.1,454.8 354.2,452.5 354.8,450.6 357.5,449.6 359.8,452.2" fill="#1e5a1e" fill-opacity="0.55" stroke="#55c955" stroke-width="1.2" stroke-linejoin="round"/>
<polygon points="370.3,458.9 369.6,460.8 367.4,461.5 365.7,459.4 367.3,457.3 369.4,457.7" fill="#1e5a1e" fill-opacity="0.55" stroke="#55c955" stroke-width="1.2" stroke-linejoin="round"/>
<polygon points="384.1,456.9 382.2,460.5 380.5,460.2 380.1,455.0 383.2,454.1" fill="#1e5a1e" fill-opacity="0.55" stroke="#55c955" stroke-width="1.2" stroke-linejoin="round"/>
<polygon points="440.8,367.5 440.6,368.2 439.3,368.7 438.1,367.8 438.3,366.3 439.0,365.9 440.7,366.1" fill="#4fbf4f" fill-opacity="0.85" stroke="#5ccc5c" stroke-width="0.6" stroke-linejoin="round"/>
<polygon points="461.5,363.0 461.4,364.3 460.7,364.9 459.4,364.2 458.8,362.9 459.4,361.3 460.6,361.5" fill="#4fbf4f" fill-opacity="0.85" stroke="#5ccc5c" stroke-width="0.6" stroke-linejoin="round"/>
<polygon points="468.5,361.6 468.1,362.6 466.5,363.0 466.0,362.3 465.8,361.1 467.1,359.9 468.0,360.4" fill="#4fbf4f" fill-opacity="0.85" stroke="#5ccc5c" stroke-width="0.6" stroke-linejoin="round"/>
<polygon points="455.9,367.3 455.6,368.2 454.2,369.0 452.4,369.1 452.0,368.1 453.2,366.9 454.7,366.7" fill="#4fbf4f" fill-opacity="0.85" stroke="#5ccc5c" stroke-width="0.6" stroke-linejoin="round"/>
<polygon points="464.7,368.0 464.2,369.5 462.9,369.8 461.8,368.8 461.6,367.7 463.0,366.5 464.5,367.1" fill="#4fbf4f" fill-opacity="0.85" stroke="#5ccc5c" stroke-width="0.6" stroke-linejoin="round"/>
<polygon points="471.1,370.8 469.9,372.4 469.2,372.1 468.8,370.6 469.4,369.1 470.0,369.0 471.0,369.8" fill="#4fbf4f" fill-opacity="0.85" stroke="#5ccc5c" stroke-width="0.6" stroke-linejoin="round"/>
<polygon points="458.7,372.6 458.4,374.1 457.6,375.0 456.5,374.5 455.2,372.6 456.4,371.4 457.4,371.1" fill="#4fbf4f" fill-opacity="0.85" stroke="#5ccc5c" stroke-width="0.6" stroke-linejoin="round"/>
<polygon points="440.2,378.1 439.9,379.0 438.9,379.9 437.6,378.7 437.6,377.4 438.3,375.9 440.2,376.6" fill="#4fbf4f" fill-opacity="0.85" stroke="#5ccc5c" stroke-width="0.6" stroke-linejoin="round"/>
<polygon points="438.5,380.4 438.3,381.6 437.3,382.3 436.1,382.2 435.9,381.4 436.5,380.4 437.4,380.2" fill="#4fbf4f" fill-opacity="0.85" stroke="#5ccc5c" stroke-width="0.6" stroke-linejoin="round"/>
<polygon points="458.0,379.6 457.5,380.6 456.1,380.9 454.8,379.3 455.4,378.1 456.4,377.8 457.9,378.3" fill="#4fbf4f" fill-opacity="0.85" stroke="#5ccc5c" stroke-width="0.6" stroke-linejoin="round"/>
<polygon points="442.3,385.5 440.8,387.2 439.4,386.7 438.7,385.2 439.4,383.7 441.0,383.4 441.9,384.4" fill="#4fbf4f" fill-opacity="0.85" stroke="#5ccc5c" stroke-width="0.6" stroke-linejoin="round"/>
<polygon points="453.3,385.1 453.2,386.3 451.7,386.8 450.3,386.0 450.2,385.1 451.4,384.0 452.7,383.9" fill="#4fbf4f" fill-opacity="0.85" stroke="#5ccc5c" stroke-width="0.6" stroke-linejoin="round"/>
<polygon points="461.1,385.3 460.0,386.1 459.0,386.3 458.3,385.5 458.3,384.4 459.4,383.6 460.6,383.7" fill="#4fbf4f" fill-opacity="0.85" stroke="#5ccc5c" stroke-width="0.6" stroke-linejoin="round"/>
<polygon points="469.1,385.3 468.4,386.3 467.0,386.4 466.3,385.9 466.4,384.6 467.5,384.1 468.4,384.4" fill="#4fbf4f" fill-opacity="0.85" stroke="#5ccc5c" stroke-width="0.6" stroke-linejoin="round"/>
<polygon points="463.7,388.2 462.8,389.1 461.5,389.2 460.4,388.7 460.3,387.7 461.3,387.2 462.9,387.5" fill="#4fbf4f" fill-opacity="0.85" stroke="#5ccc5c" stroke-width="0.6" stroke-linejoin="round"/>
<polygon points="437.1,390.9 436.9,392.5 435.7,393.0 434.9,392.8 434.7,391.0 435.5,390.1 436.5,390.0" fill="#4fbf4f" fill-opacity="0.85" stroke="#5ccc5c" stroke-width="0.6" stroke-linejoin="round"/>
<polygon points="458.6,391.0 458.0,392.6 456.5,393.3 455.6,392.4 455.2,391.1 455.9,390.3 457.4,390.1" fill="#4fbf4f" fill-opacity="0.85" stroke="#5ccc5c" stroke-width="0.6" stroke-linejoin="round"/>
<polygon points="454.0,394.6 453.7,395.6 452.4,396.2 451.1,395.4 451.3,393.7 452.1,393.4 453.7,393.5" fill="#4fbf4f" fill-opacity="0.85" stroke="#5ccc5c" stroke-width="0.6" stroke-linejoin="round"/>
<polygon points="443.9,396.2 443.1,397.4 441.9,397.5 441.2,396.4 441.0,395.4 442.7,394.5 443.2,395.0" fill="#4fbf4f" fill-opacity="0.85" stroke="#5ccc5c" stroke-width="0.6" stroke-linejoin="round"/>
<polygon points="435.0,379.4 434.9,380.1 434.2,380.5 433.2,380.3 433.1,379.4 433.6,378.9 434.4,378.7" fill="#4fbf4f" fill-opacity="0.85" stroke="#5ccc5c" stroke-width="0.6" stroke-linejoin="round"/>
<polygon points="478.8,361.8 478.7,362.9 476.5,363.5 475.5,362.6 475.1,360.8 476.5,359.6 478.6,360.4" fill="#4fbf4f" fill-opacity="0.85" stroke="#5ccc5c" stroke-width="0.6" stroke-linejoin="round"/>
<polygon points="507.7,360.7 506.5,362.3 505.3,362.3 503.9,361.0 503.7,360.1 505.1,358.6 506.7,358.8" fill="#4fbf4f" fill-opacity="0.85" stroke="#5ccc5c" stroke-width="0.6" stroke-linejoin="round"/>
<ellipse cx="494.7" cy="367.9" rx="2.5" ry="1.8" transform="rotate(0 494.7 367.9)" fill="#1f5a1f" fill-opacity="0.6" stroke="#55c955" stroke-width="1.1"/>
<ellipse cx="479.5" cy="375.4" rx="2.5" ry="2.5" transform="rotate(0 479.5 375.4)" fill="#1f5a1f" fill-opacity="0.6" stroke="#55c955" stroke-width="1.1"/>
<ellipse cx="492.6" cy="375.2" rx="2" ry="3.5" transform="rotate(10 492.6 375.2)" fill="#1f5a1f" fill-opacity="0.6" stroke="#55c955" stroke-width="1.1"/>
<ellipse cx="503.2" cy="374.8" rx="2.5" ry="2.5" transform="rotate(0 503.2 374.8)" fill="#1f5a1f" fill-opacity="0.6" stroke="#55c955" stroke-width="1.1"/>
<ellipse cx="505.6" cy="379.3" rx="2.2" ry="2.5" transform="rotate(0 505.6 379.3)" fill="#1f5a1f" fill-opacity="0.6" stroke="#55c955" stroke-width="1.1"/>
<ellipse cx="486.8" cy="390" rx="2.2" ry="2.2" transform="rotate(0 486.8 390)" fill="#1f5a1f" fill-opacity="0.6" stroke="#55c955" stroke-width="1.1"/>
<ellipse cx="502.3" cy="388.6" rx="2.5" ry="2.3" transform="rotate(-30 502.3 388.6)" fill="#1f5a1f" fill-opacity="0.6" stroke="#55c955" stroke-width="1.1"/>
<polygon points="499.9,372.8 499.9,376.9 498.3,376.0 497.1,372.1 497.9,370.1" fill="#1e5a1e" fill-opacity="0.55" stroke="#55c955" stroke-width="1.2" stroke-linejoin="round"/>
<polygon points="491.5,383.5 490.5,386.0 488.2,385.6 488.0,383.0 489.2,381.5 490.5,381.5" fill="#1e5a1e" fill-opacity="0.55" stroke="#55c955" stroke-width="1.2" stroke-linejoin="round"/>
<polygon points="498.8,385.5 498.2,388.4 495.2,389.1 494.5,385.9 495.4,384.3 497.6,384.2" fill="#1e5a1e" fill-opacity="0.55" stroke="#55c955" stroke-width="1.2" stroke-linejoin="round"/>
<polygon points="498.9,400.6 498.3,402.9 497.4,402.7 496.4,402.1 495.9,400.6 497.1,399.1 498.3,399.3" fill="#4fbf4f" fill-opacity="0.85" stroke="#5ccc5c" stroke-width="0.6" stroke-linejoin="round"/>
<polygon points="496.3,405.0 495.9,406.4 494.7,407.2 493.3,406.5 493.1,404.4 494.3,403.1 495.6,403.6" fill="#4fbf4f" fill-opacity="0.85" stroke="#5ccc5c" stroke-width="0.6" stroke-linejoin="round"/>
<polygon points="438.2,420.2 437.9,421.2 435.9,421.9 434.8,421.1 434.3,419.3 435.5,418.7 437.1,418.6" fill="#4fbf4f" fill-opacity="0.85" stroke="#5ccc5c" stroke-width="0.6" stroke-linejoin="round"/>
<polygon points="450.7,423.6 450.2,424.2 449.2,424.7 447.7,423.9 447.5,423.4 449.0,422.7 450.1,422.8" fill="#4fbf4f" fill-opacity="0.85" stroke="#5ccc5c" stroke-width="0.6" stroke-linejoin="round"/>
<polygon points="457.7,421.3 457.2,422.4 456.5,423.0 454.8,422.1 454.7,421.4 455.8,420.1 456.6,420.0" fill="#4fbf4f" fill-opacity="0.85" stroke="#5ccc5c" stroke-width="0.6" stroke-linejoin="round"/>
<polygon points="468.7,421.1 467.8,422.4 465.9,422.5 464.7,421.1 465.0,419.6 466.6,418.7 468.1,419.4" fill="#4fbf4f" fill-opacity="0.85" stroke="#5ccc5c" stroke-width="0.6" stroke-linejoin="round"/>
<polygon points="466.3,424.8 465.8,425.2 464.4,424.7 463.6,424.0 464.2,422.9 465.4,423.0 466.1,423.5" fill="#4fbf4f" fill-opacity="0.85" stroke="#5ccc5c" stroke-width="0.6" stroke-linejoin="round"/>
<polygon points="465.8,427.6 464.7,427.9 463.0,427.8 462.0,426.4 462.3,425.3 464.4,425.2 465.7,426.1" fill="#4fbf4f" fill-opacity="0.85" stroke="#5ccc5c" stroke-width="0.6" stroke-linejoin="round"/>
<polygon points="461.2,428.8 460.7,429.7 459.1,430.0 458.6,429.6 458.4,428.4 459.7,427.8 460.4,427.9" fill="#4fbf4f" fill-opacity="0.85" stroke="#5ccc5c" stroke-width="0.6" stroke-linejoin="round"/>
<polygon points="464.4,430.3 464.1,431.2 462.5,431.7 461.9,430.7 461.8,429.6 463.2,428.6 463.9,429.0" fill="#4fbf4f" fill-opacity="0.85" stroke="#5ccc5c" stroke-width="0.6" stroke-linejoin="round"/>
<polygon points="436.5,428.6 436.0,429.0 434.8,429.6 433.5,428.6 433.9,427.3 434.7,426.5 436.1,427.1" fill="#4fbf4f" fill-opacity="0.85" stroke="#5ccc5c" stroke-width="0.6" stroke-linejoin="round"/>
<polygon points="439.5,430.2 439.0,432.1 437.6,432.5 436.7,432.1 436.3,430.3 437.6,429.4 438.6,429.7" fill="#4fbf4f" fill-opacity="0.85" stroke="#5ccc5c" stroke-width="0.6" stroke-linejoin="round"/>
<polygon points="461.5,437.2 461.4,438.1 459.9,439.1 458.5,438.8 458.0,438.1 458.8,437.0 460.4,436.6" fill="#4fbf4f" fill-opacity="0.85" stroke="#5ccc5c" stroke-width="0.6" stroke-linejoin="round"/>
<polygon points="444.3,440.9 444.3,441.9 443.0,443.0 442.0,442.6 441.4,441.4 441.9,440.7 443.0,440.1" fill="#4fbf4f" fill-opacity="0.85" stroke="#5ccc5c" stroke-width="0.6" stroke-linejoin="round"/>
<polygon points="447.8,439.6 447.1,440.2 446.1,440.4 444.9,440.0 445.1,439.0 445.8,438.5 447.2,438.6" fill="#4fbf4f" fill-opacity="0.85" stroke="#5ccc5c" stroke-width="0.6" stroke-linejoin="round"/>
<polygon points="448.7,441.7 448.8,442.8 447.7,443.6 446.5,443.2 446.0,441.9 446.8,441.0 448.3,440.8" fill="#4fbf4f" fill-opacity="0.85" stroke="#5ccc5c" stroke-width="0.6" stroke-linejoin="round"/>
<polygon points="448.1,446.2 447.5,447.0 445.0,446.9 444.1,445.8 444.5,444.2 446.5,443.3 448.0,444.3" fill="#4fbf4f" fill-opacity="0.85" stroke="#5ccc5c" stroke-width="0.6" stroke-linejoin="round"/>
<polygon points="470.9,442.4 470.0,443.1 468.7,442.9 467.8,442.2 468.3,441.6 469.6,441.4 470.5,441.8" fill="#4fbf4f" fill-opacity="0.85" stroke="#5ccc5c" stroke-width="0.6" stroke-linejoin="round"/>
<polygon points="470.0,446.3 469.2,447.5 468.1,447.3 467.1,446.1 467.9,444.9 469.0,444.4 470.1,445.4" fill="#4fbf4f" fill-opacity="0.85" stroke="#5ccc5c" stroke-width="0.6" stroke-linejoin="round"/>
<polygon points="435.7,444.3 435.3,444.8 434.5,444.9 433.9,444.4 434.0,443.7 434.9,443.2 435.6,443.5" fill="#4fbf4f" fill-opacity="0.85" stroke="#5ccc5c" stroke-width="0.6" stroke-linejoin="round"/>
<polygon points="438.7,451.4 438.1,452.0 436.3,451.9 435.9,451.1 436.0,450.1 437.3,449.7 438.6,450.5" fill="#4fbf4f" fill-opacity="0.85" stroke="#5ccc5c" stroke-width="0.6" stroke-linejoin="round"/>
<polygon points="445.1,449.7 445.1,451.2 443.8,452.0 442.3,451.6 442.0,450.6 442.7,449.6 444.4,449.2" fill="#4fbf4f" fill-opacity="0.85" stroke="#5ccc5c" stroke-width="0.6" stroke-linejoin="round"/>
<polygon points="455.0,452.6 453.8,454.0 451.5,453.3 450.9,452.5 451.7,450.5 453.8,450.0 455.0,451.5" fill="#4fbf4f" fill-opacity="0.85" stroke="#5ccc5c" stroke-width="0.6" stroke-linejoin="round"/>
<polygon points="463.1,453.5 461.7,454.4 460.1,454.1 459.6,453.2 460.0,451.7 461.8,451.3 462.7,452.2" fill="#4fbf4f" fill-opacity="0.85" stroke="#5ccc5c" stroke-width="0.6" stroke-linejoin="round"/>
<polygon points="464.6,456.7 463.8,458.2 462.4,458.0 461.6,456.9 461.7,455.8 463.0,455.1 464.3,455.4" fill="#4fbf4f" fill-opacity="0.85" stroke="#5ccc5c" stroke-width="0.6" stroke-linejoin="round"/>
<polygon points="442.0,462.5 440.8,463.7 439.9,463.5 438.3,461.7 438.6,460.7 440.7,459.7 441.9,460.7" fill="#4fbf4f" fill-opacity="0.85" stroke="#5ccc5c" stroke-width="0.6" stroke-linejoin="round"/>
<polygon points="445.8,461.4 445.1,461.9 443.5,461.2 443.0,460.4 443.5,459.2 445.1,459.1 445.9,459.5" fill="#4fbf4f" fill-opacity="0.85" stroke="#5ccc5c" stroke-width="0.6" stroke-linejoin="round"/>
<polygon points="445.5,463.2 445.2,464.1 444.4,464.5 443.0,464.4 442.8,463.9 443.8,462.6 444.5,462.6" fill="#4fbf4f" fill-opacity="0.85" stroke="#5ccc5c" stroke-width="0.6" stroke-linejoin="round"/>
<polygon points="451.5,462.1 451.7,463.3 450.7,464.6 449.2,464.3 448.2,462.3 449.0,461.1 450.6,461.1" fill="#4fbf4f" fill-opacity="0.85" stroke="#5ccc5c" stroke-width="0.6" stroke-linejoin="round"/>
<polygon points="458.2,459.6 458.1,460.4 457.3,460.8 456.6,460.3 456.3,459.9 456.8,459.2 457.9,458.8" fill="#4fbf4f" fill-opacity="0.85" stroke="#5ccc5c" stroke-width="0.6" stroke-linejoin="round"/>
<polygon points="466.0,460.1 466.0,461.4 464.0,462.3 462.6,461.3 462.3,459.9 463.3,459.1 465.4,458.9" fill="#4fbf4f" fill-opacity="0.85" stroke="#5ccc5c" stroke-width="0.6" stroke-linejoin="round"/>
<polygon points="458.3,464.4 458.1,465.3 456.6,466.1 455.9,465.6 455.6,464.1 456.0,463.2 457.3,463.2" fill="#4fbf4f" fill-opacity="0.85" stroke="#5ccc5c" stroke-width="0.6" stroke-linejoin="round"/>
<polygon points="477.6,419.6 476.9,421.5 475.2,421.5 474.6,420.8 474.3,418.3 475.6,417.0 476.5,417.3" fill="#4fbf4f" fill-opacity="0.85" stroke="#5ccc5c" stroke-width="0.6" stroke-linejoin="round"/>
<ellipse cx="478.8" cy="425.8" rx="3.4" ry="3.4" transform="rotate(0 478.8 425.8)" fill="#1f5a1f" fill-opacity="0.6" stroke="#55c955" stroke-width="1.3"/>
<ellipse cx="508.1" cy="420.2" rx="3" ry="2" transform="rotate(0 508.1 420.2)" fill="#1f5a1f" fill-opacity="0.6" stroke="#55c955" stroke-width="1.1"/>
<ellipse cx="489.6" cy="434.6" rx="3.2" ry="2.2" transform="rotate(0 489.6 434.6)" fill="#1f5a1f" fill-opacity="0.6" stroke="#55c955" stroke-width="1.1"/>
<ellipse cx="507.5" cy="437.2" rx="2.7" ry="2" transform="rotate(0 507.5 437.2)" fill="#1f5a1f" fill-opacity="0.6" stroke="#55c955" stroke-width="1.1"/>
<ellipse cx="508.7" cy="442.2" rx="2.7" ry="2.2" transform="rotate(30 508.7 442.2)" fill="#1f5a1f" fill-opacity="0.6" stroke="#55c955" stroke-width="1.1"/>
<ellipse cx="499.3" cy="446" rx="2.2" ry="3.2" transform="rotate(20 499.3 446)" fill="#1f5a1f" fill-opacity="0.6" stroke="#55c955" stroke-width="1.1"/>
<ellipse cx="505" cy="449.1" rx="2.7" ry="2" transform="rotate(-20 505 449.1)" fill="#1f5a1f" fill-opacity="0.6" stroke="#55c955" stroke-width="1.1"/>
<ellipse cx="481.1" cy="451" rx="3.2" ry="2.2" transform="rotate(0 481.1 451)" fill="#1f5a1f" fill-opacity="0.6" stroke="#55c955" stroke-width="1.1"/>
<ellipse cx="476" cy="443.4" rx="2" ry="1.7" transform="rotate(0 476 443.4)" fill="#1f5a1f" fill-opacity="0.6" stroke="#55c955" stroke-width="1.1"/>
<ellipse cx="475.4" cy="452.9" rx="2" ry="2" transform="rotate(0 475.4 452.9)" fill="#1f5a1f" fill-opacity="0.6" stroke="#55c955" stroke-width="1.1"/>
<ellipse cx="494.9" cy="458.5" rx="2" ry="2" transform="rotate(0 494.9 458.5)" fill="#1f5a1f" fill-opacity="0.6" stroke="#55c955" stroke-width="1.1"/>
<ellipse cx="476" cy="463" rx="2.2" ry="2" transform="rotate(0 476 463)" fill="#1f5a1f" fill-opacity="0.6" stroke="#55c955" stroke-width="1.1"/>
<polygon points="497.6,440.2 496.2,441.7 494.5,441.5 493.6,439.7 494.2,438.2 496.7,438.1" fill="#1e5a1e" fill-opacity="0.55" stroke="#55c955" stroke-width="1.2" stroke-linejoin="round"/>
<polygon points="503.0,441.6 502.4,443.5 500.3,443.6 499.3,443.1 500.0,441.0 500.7,440.1 501.8,440.5" fill="#1e5a1e" fill-opacity="0.55" stroke="#55c955" stroke-width="1.2" stroke-linejoin="round"/>
<polygon points="479.8,458.8 479.3,459.5 478.0,459.8 476.8,459.5 476.8,457.6 477.8,457.2 479.3,457.5" fill="#4fbf4f" fill-opacity="0.85" stroke="#5ccc5c" stroke-width="0.6" stroke-linejoin="round"/>
<polygon points="513.5,416.4 512.8,417.8 511.2,418.2 510.8,417.6 510.8,415.5 511.4,414.4 513.0,415.1" fill="#4fbf4f" fill-opacity="0.85" stroke="#5ccc5c" stroke-width="0.6" stroke-linejoin="round"/>
<line x1="336" y1="408.7" x2="347" y2="408.7" stroke="#f4f4f4" stroke-width="1.8" />
<line x1="375.6" y1="407.6" x2="386.3" y2="407.6" stroke="#f4f4f4" stroke-width="1.8" />
<line x1="419" y1="409.4" x2="430.3" y2="409.4" stroke="#f4f4f4" stroke-width="1.8" />
<line x1="459" y1="408.9" x2="469.5" y2="408.9" stroke="#f4f4f4" stroke-width="1.8" />
<line x1="499.3" y1="409.6" x2="510.2" y2="409.6" stroke="#f4f4f4" stroke-width="1.8" />
<line x1="336.1" y1="466.6" x2="346.9" y2="466.6" stroke="#f4f4f4" stroke-width="1.8" />
<line x1="375" y1="465.8" x2="385.8" y2="465.8" stroke="#f4f4f4" stroke-width="1.8" />
<line x1="419" y1="466.1" x2="430.3" y2="466.1" stroke="#f4f4f4" stroke-width="1.8" />
<line x1="459" y1="465.5" x2="469.5" y2="465.5" stroke="#f4f4f4" stroke-width="1.8" />
<line x1="498.9" y1="465.0" x2="509.7" y2="465.0" stroke="#f4f4f4" stroke-width="1.8" />
<text transform="translate(304.6,399.6) rotate(-90)" font-size="7.3" font-style="italic" fill="#111" textLength="23.2" lengthAdjust="spacingAndGlyphs">SLFN14</text>
<text transform="translate(300.9,376.0) rotate(-90)" font-size="4.2" font-style="italic" fill="#111" textLength="6.2" lengthAdjust="spacingAndGlyphs">+/+</text>
<text transform="translate(304.6,458.1) rotate(-90)" font-size="7.3" font-style="italic" fill="#111" textLength="22.6" lengthAdjust="spacingAndGlyphs">SLFN14</text>
<text transform="translate(300.9,435.3) rotate(-90)" font-size="4.2" font-style="italic" fill="#111" textLength="16.4" lengthAdjust="spacingAndGlyphs">K208N/+</text>
</svg>
<div style="position:absolute;left:0;top:0;width:518px;height:475px;border:1px solid #000;"></div>
</div>
</body></html>
